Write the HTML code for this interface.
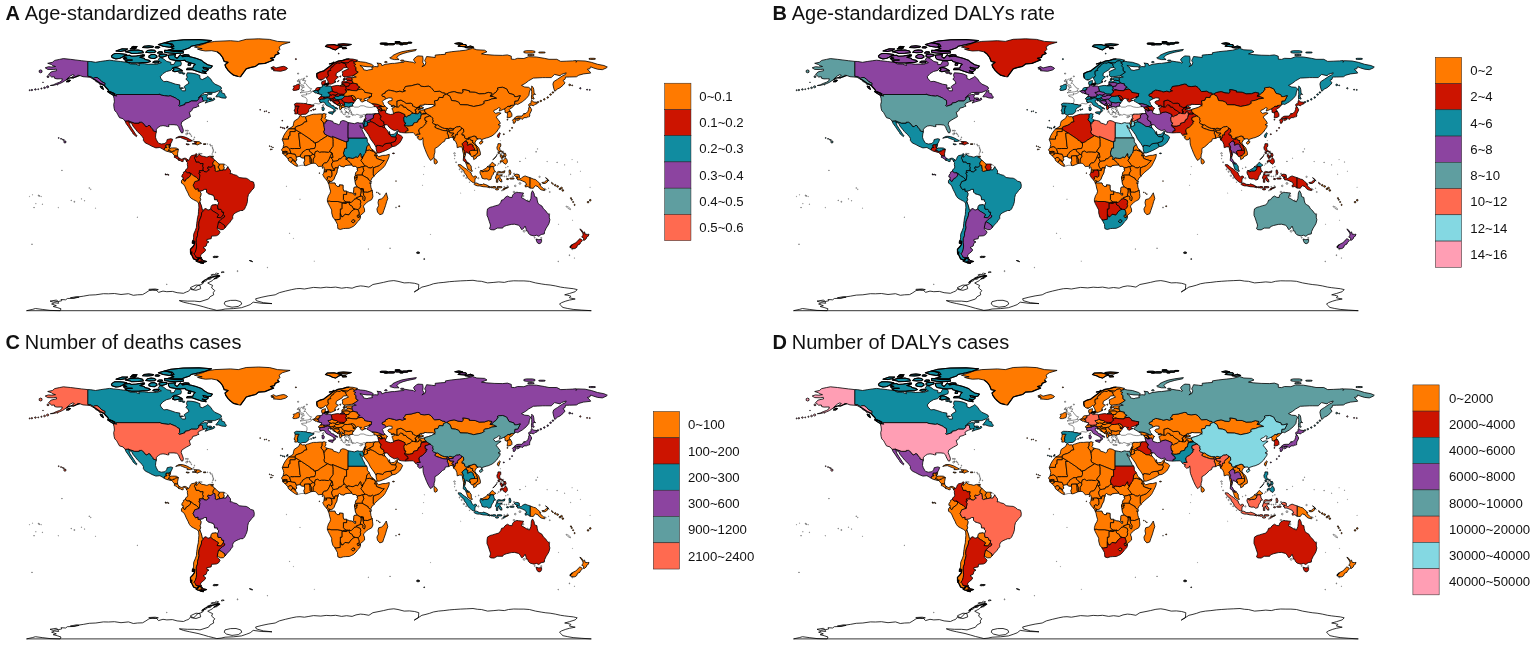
<!DOCTYPE html><html><head><meta charset="utf-8"><title>World maps</title><style>html,body{margin:0;padding:0;background:#fff}svg{display:block}text{font-family:"Liberation Sans",Arial,sans-serif;fill:#111}</style></head><body><svg width="1535" height="647" viewBox="0 0 1535 647"><rect width="1535" height="647" fill="#fff"/><defs><path id="c_Portugal" d="M282.2,120.3 282.6,120.5 282.6,121.0 282.2,121.1 281.9,121.0 281.9,120.5ZM269.3,112.4 269.3,112.8 268.9,112.9 268.6,112.8 268.6,112.4 268.9,112.2ZM265.0,111.2 265.0,111.7 264.7,111.8 264.3,111.7 264.3,111.2 264.7,111.1ZM266.2,110.8 266.6,110.9 266.6,111.3 266.2,111.5 265.9,111.3 265.9,110.9ZM295.1,106.0 296.2,106.0 298.7,106.0 299.2,106.5 298.1,107.4 297.9,109.5 297.3,109.8 297.9,111.9 297.3,113.6 296.4,113.9 294.8,113.9 295.1,111.6 294.0,111.0 295.0,108.7ZM260.5,109.6 260.5,110.1 260.1,110.2 259.8,110.1 259.8,109.6 260.1,109.5Z"/><path id="c_Spain" d="M284.9,128.1 284.9,128.7 284.4,128.9 284.0,128.7 284.0,128.1 284.4,127.9ZM283.3,127.6 283.3,128.2 282.9,128.4 282.4,128.2 282.4,127.6 282.9,127.4ZM287.4,127.4 287.4,128.0 287.0,128.2 286.5,128.0 286.5,127.4 287.0,127.2ZM281.3,127.0 281.3,127.5 280.8,127.7 280.4,127.5 280.4,127.0 280.8,126.8ZM288.1,126.5 288.1,127.1 287.6,127.2 287.1,127.1 287.1,126.5 287.6,126.3ZM311.5,110.5 311.5,111.0 311.1,111.1 310.7,111.0 310.7,110.5 311.1,110.3ZM313.1,109.2 314.0,109.2 314.4,109.4 314.4,110.0 314.0,110.2 313.1,110.2 312.7,110.0 312.7,109.4ZM307.8,104.4 310.0,104.5 311.6,105.0 313.9,105.2 313.9,106.0 312.4,106.8 310.2,107.8 308.9,109.4 308.4,110.0 309.2,111.0 307.8,112.7 305.8,114.2 302.0,114.4 300.4,115.3 299.0,114.5 297.3,113.6 297.9,111.9 297.3,109.8 297.9,109.5 298.1,107.4 299.2,106.5 298.7,106.0 296.2,106.0 295.1,106.0 294.3,104.2 296.4,103.1 300.3,103.2 303.4,103.4 306.1,103.6ZM315.7,109.4 315.4,109.5 315.0,109.4 315.0,108.9 315.4,108.7 315.7,108.9Z"/><path id="c_Luxembourg" d="M318.0,93.1 318.5,92.7 319.1,93.3 319.0,93.7 317.9,93.7Z"/><path id="c_Belgium" d="M314.3,90.7 315.7,90.7 316.8,90.5 318.0,91.0 317.9,91.6 318.3,91.7 318.8,92.4 318.5,92.7 318.0,93.1 317.9,93.7 316.5,92.9 315.5,92.9 313.9,91.8 312.8,91.2Z"/><path id="c_Netherlands" d="M317.9,91.6 318.0,91.0 316.8,90.5 315.7,90.7 314.3,90.7 315.5,89.7 316.3,88.1 317.5,87.5 319.9,87.5 320.1,87.8 319.9,88.9 319.6,89.9 318.3,90.0 318.3,91.7Z"/><path id="c_Switzerland" d="M318.9,98.9 318.5,99.1 318.5,98.7 319.9,97.1 320.8,96.8 322.4,96.5 324.0,97.0 323.8,97.6 325.2,97.9 325.4,98.4 324.8,99.1 323.5,98.7 323.0,99.7 322.1,98.7 321.3,99.5 319.9,99.5Z"/><path id="c_France" d="M323.7,104.2 323.8,105.8 323.4,106.8 322.4,106.0 322.4,105.0ZM306.6,95.0 306.3,93.4 307.4,93.9 309.2,93.7 311.3,92.6 311.4,91.5 312.8,91.2 313.9,91.8 315.5,92.9 316.5,92.9 317.9,93.7 317.9,93.7 318.0,93.7 319.0,93.7 319.4,94.2 321.8,94.5 320.8,96.8 319.9,97.1 318.5,98.7 318.5,99.1 318.9,98.9 319.9,99.5 319.6,100.8 319.9,102.1 321.0,102.4 320.7,102.9 319.1,104.0 316.8,103.6 315.2,103.4 313.6,104.2 313.9,105.2 311.6,105.0 310.0,104.5 307.8,104.4 306.1,103.6 307.0,101.6 307.0,99.4 305.5,97.4 301.9,96.3 301.5,95.3 304.2,94.9Z"/><path id="c_Denmark" d="M326.2,85.1 326.6,85.0 327.7,85.0 328.1,85.1 328.1,85.4 327.7,85.5 326.6,85.5 326.2,85.4ZM325.5,83.9 325.9,84.1 325.9,84.6 325.5,84.8 324.6,84.8 324.5,84.7 324.5,85.2 322.4,85.0 321.6,83.9 321.8,81.7 324.3,80.7 325.6,80.5 325.1,82.5 325.9,82.9 324.9,83.9ZM328.7,83.7 328.1,84.6 326.6,84.6 326.2,83.7 327.7,83.1ZM321.8,79.7 321.5,79.9 319.9,79.8 319.9,79.7Z"/><path id="c_Austria" d="M327.5,97.9 327.9,97.8 325.4,98.4 325.2,97.9 323.8,97.6 324.0,97.0 325.4,97.0 328.1,96.8 329.3,97.0 329.3,95.7 330.6,94.9 332.0,95.2 332.5,94.5 335.4,95.2 335.7,96.2 334.8,97.0 334.2,97.9 333.4,98.2 331.7,98.7 330.4,98.6 328.4,98.2 328.0,97.9Z"/><path id="c_Italy" d="M329.8,111.9 333.4,111.8 332.9,113.9 332.6,114.4 330.9,113.7 328.5,112.9 328.4,112.3ZM324.3,108.2 324.0,110.3 322.9,110.8 322.1,110.2 322.1,108.2 321.8,107.4 323.4,107.1ZM328.4,102.3 330.3,103.4 331.2,105.2 334.0,106.0 334.0,106.8 337.2,108.1 337.9,108.9 337.2,109.2 335.6,108.2 335.0,109.5 335.7,110.7 334.8,111.8 333.6,112.4 333.7,111.3 334.0,109.8 333.2,109.0 331.7,108.1 330.1,107.1 328.2,106.3 326.2,105.2 325.4,104.2 324.9,102.8 323.0,102.0 320.7,102.9 321.0,102.4 319.9,102.1 319.6,100.8 319.9,99.5 321.3,99.5 322.1,98.7 323.0,99.7 323.5,98.7 324.8,99.1 325.4,98.4 327.5,97.9 328.0,97.9 328.4,98.2 330.4,98.6 330.3,99.1 330.3,100.2 329.3,100.0 328.2,100.5Z"/><path id="c_Slovenia" d="M330.3,99.1 330.4,98.6 331.7,98.7 333.4,98.2 334.2,97.9 334.8,98.6 333.6,99.1 333.4,99.7 332.8,100.2 330.9,100.2 330.3,100.2Z"/><path id="c_CzechRepublic" d="M335.4,95.2 332.5,94.5 332.0,95.2 330.6,94.9 329.3,94.2 328.5,93.3 327.9,92.4 329.3,92.3 331.4,91.3 332.5,91.3 334.5,92.0 335.4,92.3 336.7,92.4 338.4,93.7 337.2,94.5 335.9,94.7 335.5,95.4Z"/><path id="c_Germany" d="M319.9,88.9 320.1,87.8 319.9,87.5 322.3,87.0 322.4,85.0 324.5,85.2 326.0,86.5 328.2,86.0 330.4,86.0 331.2,86.6 331.5,87.8 331.8,88.9 332.0,90.0 332.5,91.3 331.4,91.3 329.3,92.3 327.9,92.4 328.5,93.3 329.3,94.2 330.6,94.9 329.3,95.7 329.3,97.0 328.1,96.8 325.4,97.0 324.0,97.0 322.4,96.5 320.8,96.8 321.8,94.5 319.4,94.2 319.0,93.7 319.1,93.3 318.5,92.7 318.8,92.4 318.3,91.7 318.3,90.0 319.6,89.9Z"/><path id="c_Slovakia" d="M338.7,96.0 338.4,96.5 335.7,96.2 335.5,95.4 335.9,94.7 337.2,94.5 338.4,93.7 340.0,94.2 341.7,94.1 344.2,94.4 343.6,95.5 341.1,95.3 338.9,95.9Z"/><path id="c_Hungary" d="M334.2,97.9 334.8,97.0 335.7,96.2 338.4,96.5 338.7,96.0 338.9,95.9 341.1,95.3 343.6,95.5 344.9,96.2 342.2,98.9 340.8,99.2 338.6,99.5 336.7,99.5 334.8,98.6Z"/><path id="c_Croatia" d="M333.2,102.6 331.7,100.7 330.4,101.1 330.3,100.2 330.9,100.2 332.8,100.2 333.4,99.7 333.6,99.1 334.8,98.6 336.7,99.5 338.6,99.5 338.9,101.0 338.7,101.1 335.6,100.7 336.0,100.7 335.3,100.7 333.7,100.7 333.7,101.5 334.3,102.3 336.1,103.7 336.5,104.2 337.9,105.0 337.9,105.2 335.6,103.9Z"/><path id="c_BosniaandHerzegovina" d="M339.2,103.4 339.2,103.7 338.6,103.6ZM336.1,103.7 334.3,102.3 333.7,101.5 333.7,100.7 335.3,100.7 336.0,100.7 338.7,101.1 338.9,101.0 339.4,102.1 339.7,103.2 338.6,103.6 337.9,105.0 336.5,104.2Z"/><path id="c_Montenegro" d="M337.9,105.2 337.9,105.0 338.6,103.6 339.7,103.7 340.8,104.4 340.5,104.9 339.8,104.9 339.4,106.0 339.4,106.0Z"/><path id="c_Albania" d="M339.4,108.2 339.5,106.1 339.4,106.0 339.4,106.0 339.8,104.9 340.5,104.9 341.2,105.8 341.1,106.9 341.9,107.6 341.4,108.9 340.3,109.5Z"/><path id="c_Kosovo" d="M340.5,104.9 340.8,104.4 341.6,103.7 342.8,104.5 342.8,105.3 341.2,105.8Z"/><path id="c_Macedonia" d="M341.1,106.9 341.2,105.8 342.8,105.3 344.1,105.3 345.0,106.9 343.4,107.3 341.9,107.6Z"/><path id="c_Greece" d="M350.0,117.1 347.7,117.3 345.8,116.8 345.8,116.3 347.4,116.1 350.2,116.6ZM348.4,112.8 348.0,113.0 347.6,112.8 347.6,112.3 348.0,112.2 348.4,112.3ZM341.6,112.2 341.2,112.3 340.8,112.2 340.8,111.7 341.2,111.5 341.6,111.7ZM346.9,111.9 345.9,111.3 346.6,112.6 345.0,112.4 345.3,114.7 344.1,114.7 343.0,114.2 342.3,112.6 341.9,111.5 341.4,110.7 340.4,109.6 340.4,109.9 340.0,110.1 339.6,109.9 339.6,109.4 340.0,109.3 340.4,109.4 340.4,109.5 341.4,108.9 341.9,107.6 343.4,107.3 345.0,106.9 347.4,106.6 348.6,107.1 350.2,106.3 349.7,107.8 347.4,107.6 346.6,109.0 344.9,108.2 344.5,109.8 345.5,110.7 345.7,111.1 345.8,111.1 347.4,112.3ZM348.9,109.0 348.9,109.4 348.5,109.6 348.1,109.4 348.1,109.0 348.5,108.8ZM353.2,115.4 352.9,115.6 352.5,115.4 352.5,114.9 352.9,114.8 353.2,114.9ZM351.7,114.4 351.3,114.6 350.9,114.4 350.9,114.0 351.3,113.8 351.7,114.0ZM349.2,114.1 348.8,114.3 348.4,114.1 348.4,113.6 348.8,113.5 349.2,113.6ZM351.5,113.0 351.1,113.1 350.7,113.0 350.7,112.5 351.1,112.3 351.5,112.5ZM350.1,111.9 349.7,112.0 349.3,111.9 349.3,111.4 349.7,111.2 350.1,111.4ZM350.4,110.6 350.0,110.7 349.6,110.6 349.6,110.1 350.0,109.9 350.4,110.1Z"/><path id="c_Serbia" d="M342.8,105.3 342.8,104.5 341.6,103.7 340.8,104.4 339.7,103.7 339.2,103.7 339.2,103.4 339.7,103.2 339.4,102.1 338.9,101.0 338.6,99.5 340.8,99.2 342.7,100.7 342.5,101.1 343.6,101.8 344.5,102.3 344.1,103.1 345.0,103.9 344.1,105.3Z"/><path id="c_Bulgaria" d="M348.6,107.1 347.4,106.6 345.0,106.9 344.1,105.3 345.0,103.9 344.1,103.1 344.5,102.3 348.9,103.1 351.3,102.4 353.8,103.1 353.8,103.1 353.8,103.2 352.7,103.9 352.4,105.0 352.9,106.0 350.3,106.3 350.2,106.3Z"/><path id="c_Moldova" d="M352.1,95.3 354.4,96.3 356.0,98.7 354.3,99.7 353.2,100.2 353.0,98.1 350.7,95.7Z"/><path id="c_Romania" d="M354.0,102.6 353.8,103.1 353.8,103.1 351.3,102.4 348.9,103.1 344.5,102.3 343.6,101.8 342.5,101.1 342.7,100.7 340.8,99.2 342.2,98.9 344.9,96.2 347.4,96.3 350.0,95.8 350.7,95.7 353.0,98.1 353.2,100.2 355.5,100.5Z"/><path id="c_Russia" d="M341.9,84.4 344.4,84.9 344.7,85.8 340.0,85.8ZM387.1,61.8 387.1,62.4 386.5,62.6 385.2,62.6 384.7,62.4 384.7,61.8 385.2,61.5 386.5,61.5ZM403.8,60.3 403.8,61.0 403.2,61.2 401.4,61.2 400.7,61.0 400.7,60.3 401.4,60.1 403.2,60.1ZM407.8,50.6 416.4,49.4 415.6,50.6 407.8,52.2 403.1,53.5 399.1,55.1 396.8,57.5 399.1,59.6 394.4,59.6 390.5,58.6 389.7,57.8 392.1,56.7 392.9,55.4 396.8,53.5 401.5,51.8ZM470.5,46.0 473.7,47.2 469.0,48.1 465.0,47.5ZM458.0,46.2 461.1,44.3 465.8,44.6 466.6,45.7 464.3,46.7ZM388.2,44.4 388.2,43.8 389.5,43.5 393.0,43.5 394.4,43.8 394.4,44.5 393.0,44.8 389.5,44.8 388.2,44.5 388.2,44.8 387.3,44.9 385.1,44.9 384.2,44.8 384.2,44.4 385.1,44.3 387.3,44.3ZM402.4,44.1 403.1,44.3 403.1,44.6 402.4,44.8 400.6,44.8 399.9,44.6 399.9,44.3 400.6,44.1ZM387.4,43.3 387.4,44.0 385.8,44.2 381.9,44.2 380.3,44.0 380.3,43.3 381.9,43.1 385.8,43.1ZM407.8,43.1 407.8,43.8 406.6,44.1 403.5,44.1 402.3,43.8 402.3,43.1 403.5,42.8 406.6,42.8ZM458.8,42.7 462.7,43.5 458.0,44.3 454.8,43.5ZM401.5,42.8 401.5,43.5 400.1,43.8 396.6,43.8 395.2,43.5 395.2,42.8 396.6,42.5 400.1,42.5ZM411.7,42.4 411.7,42.9 410.8,43.1 408.6,43.1 407.8,42.9 407.8,42.4 408.6,42.2 410.8,42.2ZM398.9,41.5 399.9,41.7 399.9,42.0 398.9,42.2 396.3,42.2 395.2,42.0 395.2,41.7 396.3,41.5ZM538.0,102.8 537.3,102.5 537.3,101.7 538.0,101.4 538.7,101.7 538.7,102.5ZM540.8,101.7 540.1,101.4 540.1,100.5 540.8,100.3 541.5,100.5 541.5,101.4ZM544.3,100.1 543.6,99.8 543.6,98.9 544.3,98.6 545.0,98.9 545.0,99.8ZM547.7,98.2 547.0,97.9 547.0,97.0 547.7,96.7 548.4,97.0 548.4,97.9ZM550.5,95.3 549.8,95.0 549.8,94.1 550.5,93.8 551.3,94.1 551.3,95.0ZM533.3,94.1 533.0,97.0 534.1,98.2 533.9,99.2 532.5,98.4 531.7,99.4 531.4,97.0 531.7,94.5 531.7,91.3 531.2,88.9 531.7,87.3 531.7,86.0 533.3,87.6 533.8,89.7 534.1,92.9 535.6,94.5ZM552.9,93.2 552.2,92.9 552.2,92.0 552.9,91.7 553.6,92.0 553.6,92.9ZM572.2,85.8 571.7,85.6 571.7,85.1 572.2,84.9 572.7,85.1 572.7,85.6ZM569.7,85.7 568.9,85.4 568.9,84.4 569.7,84.1 570.5,84.4 570.5,85.4ZM425.8,58.3 426.6,56.5 431.3,57.0 435.2,57.5 435.2,55.1 440.7,54.6 445.4,54.3 445.4,52.7 451.7,51.7 459.5,50.9 465.8,50.2 472.6,48.3 476.8,49.8 484.6,50.2 487.0,51.8 481.5,53.9 486.2,54.6 494.1,55.2 502.7,55.4 507.4,54.9 511.3,56.2 511.3,59.1 514.5,59.4 517.6,58.3 523.9,58.5 528.6,56.7 536.4,57.0 544.3,58.3 549.0,59.3 556.8,59.3 560.7,61.4 566.2,61.2 572.5,60.9 576.4,60.5 576.1,62.3 577.2,60.7 585.1,61.0 591.3,62.3 597.6,64.3 603.9,65.5 607.3,67.0 606.2,68.0 602.3,69.7 597.6,69.2 593.7,68.0 590.6,66.8 589.8,68.8 587.4,69.2 590.2,72.1 590.6,73.1 583.5,73.9 578.8,75.2 576.4,76.8 569.4,77.0 565.5,77.1 565.1,79.2 563.1,80.4 565.0,82.9 563.1,85.2 560.0,87.8 557.6,88.9 554.8,91.3 553.7,88.1 552.9,84.1 553.7,81.7 557.6,79.2 562.3,76.0 565.5,74.4 566.2,72.8 561.5,74.4 560.0,75.7 554.5,74.4 551.3,77.6 545.8,77.6 542.7,77.6 537.2,77.9 533.3,78.1 528.6,80.8 525.4,83.3 521.5,85.4 524.7,87.0 528.6,87.3 530.6,88.9 529.4,92.1 528.9,95.3 526.2,98.6 522.3,101.8 517.6,104.5 516.0,103.9 514.0,105.3 513.8,105.2 514.5,104.2 514.8,101.1 517.8,100.8 520.3,95.7 516.8,96.6 514.5,96.6 513.8,94.7 509.0,93.3 506.6,88.9 502.7,87.3 498.6,87.6 497.2,88.4 498.3,88.9 495.9,92.3 493.7,93.7 492.5,95.3 490.7,96.2 490.1,96.2 492.0,93.3 488.3,92.4 484.6,93.7 479.2,93.9 475.2,92.3 469.3,92.1 469.4,90.8 465.0,89.9 462.7,89.7 463.2,92.1 461.9,93.3 458.0,92.9 454.1,91.6 449.3,92.6 446.7,94.2 445.9,94.4 445.1,93.3 442.3,92.8 439.8,91.3 434.4,91.6 431.1,87.6 428.9,86.2 424.2,86.6 420.6,86.2 419.5,84.4 417.2,84.2 411.2,85.8 405.4,86.5 404.6,88.3 403.1,89.9 405.6,90.8 402.3,92.0 399.9,91.2 396.3,92.0 394.4,91.3 390.5,90.4 388.6,90.2 385.2,92.0 385.3,93.1 382.5,94.1 381.9,95.5 383.0,96.5 384.4,96.5 385.6,98.2 386.1,98.8 383.4,100.2 382.3,101.5 383.1,102.6 383.4,104.2 385.0,106.0 383.1,106.9 381.7,106.0 378.7,104.7 375.6,103.9 371.7,103.6 368.5,101.8 367.0,101.0 366.7,100.3 368.5,98.9 370.4,97.4 368.9,97.6 368.9,97.6 369.0,96.8 371.5,96.3 371.4,94.9 371.8,93.6 368.5,93.1 364.6,92.3 364.6,91.3 362.0,89.1 358.8,89.5 358.0,88.1 360.2,87.3 357.2,85.2 357.4,83.9 353.2,83.1 352.5,81.3 351.9,80.8 352.4,80.0 351.9,78.8 352.9,77.6 356.3,77.0 353.6,76.0 352.5,76.0 355.2,74.4 358.3,72.1 356.0,70.7 356.0,67.6 354.4,65.7 355.8,64.4 353.6,63.1 354.3,62.2 357.4,61.2 360.7,61.8 365.4,62.3 371.7,64.3 373.6,65.9 371.7,66.8 367.0,66.7 363.1,66.2 359.9,65.4 363.1,68.0 363.5,69.7 367.0,70.5 368.5,69.9 372.5,69.4 371.7,67.5 374.8,66.5 378.0,66.8 378.0,63.9 376.9,63.0 381.1,63.6 381.9,65.7 385.0,64.4 392.1,63.4 394.4,63.4 399.9,62.6 403.8,62.3 404.3,61.0 409.3,61.8 413.3,62.3 414.0,63.1 415.6,62.6 414.0,60.7 413.7,59.1 416.4,56.7 418.0,55.9 422.7,56.2 423.1,59.1 422.7,62.3 424.2,64.7 421.9,66.7 425.0,65.2 425.8,62.6 424.7,60.7ZM595.3,58.5 595.3,59.2 593.9,59.4 590.4,59.4 589.0,59.2 589.0,58.5 590.4,58.3 593.9,58.3ZM534.1,54.7 534.1,55.3 532.7,55.6 529.2,55.6 527.8,55.3 527.8,54.7 529.2,54.4 532.7,54.4ZM545.1,52.2 545.1,52.8 543.7,53.0 540.2,53.0 538.8,52.8 538.8,52.2 540.2,52.0 543.7,52.0ZM534.9,51.3 534.9,52.6 532.4,53.1 526.3,53.1 523.9,52.6 523.9,51.3 526.3,50.7 532.4,50.7Z"/><path id="c_Lithuania" d="M344.4,84.9 341.9,84.4 341.9,83.1 344.9,82.6 348.0,82.6 350.7,83.7 349.4,85.0 348.9,86.2 345.8,86.5 344.7,85.8Z"/><path id="c_Latvia" d="M344.9,82.6 341.9,83.1 341.9,81.7 344.2,80.5 345.3,81.7 345.6,81.6 346.7,81.5 347.1,80.4 347.2,80.4 347.2,80.2 348.6,80.0 351.9,80.8 352.5,81.3 353.2,83.1 350.7,83.7 348.0,82.6Z"/><path id="c_Estonia" d="M347.1,80.4 347.2,80.2 347.2,80.4ZM343.1,79.3 343.6,79.1 345.0,79.1 345.5,79.3 345.5,79.8 345.0,80.0 343.6,80.0 343.1,79.8ZM345.8,78.8 345.8,78.1 348.1,77.6 352.9,77.6 351.9,78.8 352.4,80.0 351.9,80.8 348.6,80.0 347.2,80.2ZM343.9,78.4 344.7,78.4 345.0,78.5 345.0,78.7 344.7,78.8 343.9,78.8 343.6,78.7 343.6,78.5ZM344.2,77.0 344.2,76.8 345.5,76.8Z"/><path id="c_Poland" d="M341.7,94.1 340.0,94.2 338.4,93.7 336.7,92.4 335.4,92.3 334.5,92.0 332.5,91.3 332.0,90.0 331.8,88.9 331.5,87.8 331.2,86.6 334.5,85.8 337.9,85.4 340.0,85.8 344.7,85.8 345.8,86.5 346.4,88.6 345.3,89.4 345.9,90.5 346.7,92.1 344.5,93.7 344.2,94.4Z"/><path id="c_Belarus" d="M348.1,89.9 349.7,90.1 347.5,90.1ZM356.8,90.8 352.1,90.5 348.1,89.9 345.9,90.5 345.3,89.4 346.4,88.6 345.8,86.5 348.9,86.2 349.4,85.0 350.7,83.7 353.2,83.1 357.4,83.9 357.2,85.2 360.2,87.3 358.0,88.1 358.8,89.5 357.1,90.2 357.4,89.5Z"/><path id="c_Ukraine" d="M364.1,98.9 364.3,100.3 366.2,100.3 364.3,101.0 362.3,102.0 361.3,101.6 359.9,100.3 361.6,99.2 359.1,99.1 358.3,98.2 357.1,98.6 355.5,100.5 353.2,100.2 354.3,99.7 356.0,98.7 354.4,96.3 352.1,95.3 350.7,95.7 350.0,95.8 347.4,96.3 344.9,96.2 343.6,95.5 344.2,94.4 344.5,93.7 346.7,92.1 346.1,90.7 345.9,90.5 346.3,90.4 347.5,90.1 349.7,90.1 352.1,90.5 356.8,90.8 357.1,90.2 358.8,89.5 362.0,89.1 364.6,91.3 364.6,92.3 368.5,93.1 371.8,93.6 371.4,94.9 371.5,96.3 369.0,96.8 368.9,97.6 368.9,97.6 367.8,97.8Z"/><path id="c_Norway" d="M319.9,79.7 319.9,79.8 319.1,79.7 317.5,78.4 316.8,76.2 316.8,73.6 319.9,72.0 323.8,70.9 325.4,69.6 328.5,67.2 331.7,64.7 334.0,63.0 337.9,61.2 342.7,60.4 346.6,59.1 349.4,58.9 352.9,59.1 357.6,60.2 356.0,61.0 357.4,61.2 354.3,62.2 353.6,61.1 352.9,60.7 349.7,61.2 348.1,63.0 345.0,62.8 341.9,62.3 341.2,62.2 340.3,63.3 337.2,63.1 334.3,64.7 333.1,66.7 331.7,67.0 330.3,69.4 330.9,70.4 328.1,71.2 328.1,73.1 328.2,74.9 328.8,75.2 327.4,77.1 326.5,78.3 325.6,77.1 323.8,78.8 321.8,79.7ZM332.5,63.6 329.3,63.9 332.5,63.0 334.0,62.0ZM296.4,58.8 296.4,59.4 295.9,59.6 295.4,59.4 295.4,58.8 295.9,58.6ZM339.1,53.4 339.1,53.9 338.7,54.0 338.3,53.9 338.3,53.4 338.7,53.2ZM342.7,48.8 341.9,47.3 345.8,47.5 346.6,48.6ZM337.2,45.4 341.9,46.7 338.7,47.8 335.6,49.9 332.5,49.1 330.1,47.8 325.4,46.4 327.0,44.9 334.0,44.6ZM346.6,45.7 340.3,45.4 337.9,44.3 343.4,43.8 351.3,44.4Z"/><path id="c_Sweden" d="M335.7,81.2 335.4,82.3 334.7,82.9ZM338.9,80.5 338.1,81.7 337.5,81.7 338.6,80.2ZM338.7,71.7 336.4,73.1 335.9,75.7 338.4,77.0 337.3,77.9 335.1,80.0 334.7,82.3 333.7,83.1 331.4,84.1 329.3,84.2 328.7,82.9 327.6,80.5 326.5,78.3 327.4,77.1 328.8,75.2 328.2,74.9 328.1,73.1 328.1,71.2 330.9,70.4 330.3,69.4 331.7,67.0 333.1,66.7 334.3,64.7 337.2,63.1 340.3,63.3 341.2,62.2 346.1,64.1 345.9,65.1 346.9,67.5 343.4,67.8 342.2,69.6Z"/><path id="c_Finland" d="M339.8,76.2 340.3,75.9 340.8,76.2 340.8,76.8 340.3,77.1 339.8,76.8ZM345.0,70.4 345.1,70.3 348.6,68.8 346.9,67.5 345.9,65.1 346.1,64.1 341.2,62.2 341.9,62.3 345.0,62.8 348.1,63.0 349.7,61.2 352.9,60.7 353.6,61.1 354.3,62.2 353.6,63.1 355.8,64.4 354.4,65.7 356.0,67.6 356.0,70.7 358.3,72.1 355.2,74.4 352.5,76.0 348.1,76.5 345.5,76.8 344.2,76.8 344.2,77.0 342.3,75.5 342.7,73.6 342.4,72.7 342.2,71.7Z"/><path id="c_Lebanon" d="M364.8,118.7 365.4,117.7 366.3,118.4 365.1,119.7 364.0,120.2Z"/><path id="c_Israel" d="M362.6,123.1 363.4,121.9 364.0,120.2 365.1,119.7 365.1,120.8 364.8,120.8 364.6,122.7 363.8,126.0 363.7,126.0Z"/><path id="c_Jordan" d="M363.8,126.1 363.7,126.0 363.8,126.0 364.6,122.7 364.8,120.8 365.1,120.8 366.7,121.4 369.8,119.7 370.4,121.6 370.1,121.9 367.0,122.7 367.8,125.1 365.4,126.4 363.8,126.1 363.8,126.1Z"/><path id="c_Kuwait" d="M384.7,127.4 384.8,127.6 383.4,127.6 381.9,126.6 383.3,125.1 384.2,125.1Z"/><path id="c_Qatar" d="M389.3,131.4 389.9,133.2 389.6,134.0 389.4,134.0 388.6,133.5Z"/><path id="c_UnitedArabEmirates" d="M389.4,134.0 389.6,134.0 389.4,134.3 391.3,134.5 394.3,134.2 395.7,132.7 396.9,131.3 397.4,131.1 397.4,133.2 397.5,133.4 396.8,133.4 396.5,134.5 395.5,136.9 391.4,136.6 389.9,134.7 389.3,134.3 389.3,133.9Z"/><path id="c_Oman" d="M396.5,134.5 396.8,133.4 397.5,133.4 397.7,134.2 400.9,135.5 402.7,137.2 401.2,140.5 399.6,142.9 397.6,144.5 395.2,146.1 392.2,146.7 390.5,142.9 395.2,141.3 396.3,138.0 395.5,136.9Z"/><path id="c_Yemen" d="M392.5,153.5 392.5,153.2 393.0,153.0 394.0,153.0 394.4,153.2 394.4,153.5 394.0,153.7 393.0,153.7ZM388.9,148.8 385.8,150.4 382.7,151.7 379.5,152.9 377.2,153.0 376.7,151.2 376.1,148.8 376.1,147.1 376.7,145.4 378.3,145.4 381.6,145.8 382.7,146.3 384.2,144.2 386.0,143.5 390.5,142.9 392.2,146.7Z"/><path id="c_Syria" d="M366.3,118.4 365.4,117.7 365.4,117.5 365.1,115.6 366.3,115.0 366.3,114.2 368.5,114.2 371.7,114.2 375.4,113.7 373.6,115.0 373.2,118.1 369.8,119.7 366.7,121.4 365.1,120.8 365.1,119.7 366.0,118.8ZM373.8,114.9 373.5,115.3 373.6,115.0Z"/><path id="c_Georgia" d="M374.2,105.3 371.7,103.6 375.6,103.9 378.7,104.7 381.7,106.0 382.0,106.9 379.5,106.9 377.2,107.3 375.6,106.6 374.0,106.6Z"/><path id="c_Armenia" d="M379.5,106.9 381.1,108.7 381.9,109.8 381.9,110.8 381.1,110.8 380.3,109.8 379.2,109.5 377.5,108.9 377.2,107.3Z"/><path id="c_Azerbaijan" d="M381.1,110.8 380.2,110.7 379.4,110.0 379.2,109.5 380.3,109.8ZM383.1,106.9 385.0,106.0 386.1,107.4 387.8,108.4 386.6,108.6 386.3,110.2 385.6,111.6 384.7,110.0 384.2,109.7 381.9,110.8 382.2,109.0 380.7,107.9 380.4,107.9 379.5,106.9 381.8,106.9 382.0,106.9 381.7,106.0Z"/><path id="c_Turkey" d="M374.8,114.4 374.5,114.4 375.4,113.7ZM368.5,114.2 366.3,114.2 366.3,115.0 365.1,115.6 365.7,114.5 363.8,114.4 362.3,115.2 359.9,115.3 356.9,114.2 355.2,115.2 352.9,114.4 351.8,113.9 351.3,111.6 350.2,110.2 350.0,109.0 349.7,108.1 349.7,107.8 350.2,106.3 350.3,106.3 352.9,106.0 354.6,107.1 358.3,107.1 360.7,105.8 363.8,105.8 366.2,106.9 369.3,107.4 371.7,107.4 374.0,106.6 375.6,106.6 377.2,107.3 377.5,108.9 379.2,109.5 378.0,110.0 379.2,113.6 375.4,113.7 371.7,114.2Z"/><path id="c_Iraq" d="M384.2,125.1 383.3,125.1 381.9,126.6 379.1,126.4 374.8,123.4 372.3,122.1 370.4,121.6 369.8,119.7 373.2,118.1 373.5,115.3 373.8,114.9 374.5,114.4 374.8,114.4 375.4,113.7 379.2,113.6 380.2,115.5 381.1,115.8 381.1,116.9 380.3,118.7 381.1,120.3 383.9,121.9 383.8,123.5 384.2,124.3 385.6,124.7Z"/><path id="c_SaudiArabia" d="M395.5,136.9 395.9,137.5 396.3,138.0 395.2,141.3 390.5,142.9 386.0,143.5 384.2,144.2 382.7,146.3 381.6,145.8 378.3,145.4 376.7,145.4 376.1,147.1 374.0,143.7 370.4,138.8 368.5,134.8 366.2,131.6 363.8,128.4 363.8,126.1 363.8,126.1 365.4,126.4 367.8,125.1 367.0,122.7 370.1,121.9 370.4,121.6 372.3,122.1 374.8,123.4 379.1,126.4 381.9,126.6 383.4,127.6 384.6,127.6 385.3,128.1 386.6,129.7 387.7,130.9 388.6,133.5 389.3,133.9 389.3,134.3 389.9,134.7 391.4,136.6 393.2,136.7Z"/><path id="c_Turkmenistan" d="M392.1,109.0 392.1,108.1 394.4,107.4 394.4,106.0 391.3,106.6 391.3,106.1 393.6,105.3 396.0,106.9 396.8,106.9 398.4,106.9 400.7,104.7 403.1,105.5 403.2,106.8 406.0,107.3 407.0,109.0 410.1,110.8 413.3,113.2 411.8,113.4 410.1,115.0 407.8,115.8 406.7,116.8 404.9,116.1 404.9,114.5 402.0,113.1 398.8,111.9 396.0,112.3 393.5,113.4 392.9,110.7ZM406.8,108.7 407.8,109.5 407.0,109.0Z"/><path id="c_Tajikistan" d="M415.4,111.0 414.8,109.8 416.1,109.5 417.1,107.7 418.6,107.8 418.9,107.7 419.5,107.4 419.8,108.7 419.7,108.7 417.8,109.8 419.5,109.7 421.6,110.2 424.7,109.8 424.6,111.5 426.6,113.1 426.4,113.6 423.9,113.1 421.3,114.4 420.8,111.8 419.2,111.6 419.1,112.9 417.7,113.7 415.3,113.6 416.2,111.9 415.8,110.9Z"/><path id="c_Kyrgyzstan" d="M424.7,110.0 424.7,110.0 424.7,109.8ZM423.0,108.1 421.9,108.6 421.2,108.6ZM417.8,109.8 419.7,108.7 421.9,108.6 423.6,107.8 421.4,106.6 419.1,107.1 420.3,105.3 424.2,105.0 424.2,104.2 427.7,104.5 432.9,104.5 434.8,105.5 431.3,107.4 428.2,108.4 424.7,109.4 424.7,109.8 421.6,110.2 419.5,109.7Z"/><path id="c_Uzbekistan" d="M416.1,107.6 417.0,107.7 418.8,106.6 420.3,105.3 419.1,107.1 421.2,106.7 421.3,106.7 421.4,106.6 422.5,107.2 423.6,107.8 423.0,108.1 421.2,108.6 419.8,108.7 419.5,107.4 417.2,107.6 416.1,109.5 414.8,109.8 415.9,111.9 415.3,113.6 413.3,113.2 410.1,110.8 407.8,109.5 406.8,108.7 406.0,107.3 403.2,106.8 403.1,105.5 402.3,105.2 402.1,105.2 400.7,104.7 398.4,106.9 396.8,106.9 396.8,101.0 400.9,100.0 404.6,102.1 406.2,103.4 410.7,103.1 412.6,104.2 412.5,105.8 413.3,106.0 415.6,107.3 416.6,107.9Z"/><path id="c_Afghanistan" d="M407.8,115.8 410.1,115.0 411.8,113.4 413.3,113.2 415.3,113.6 417.7,113.7 419.1,112.9 419.2,111.6 420.8,111.8 421.3,114.4 423.9,113.1 426.4,113.6 425.8,113.9 422.7,114.2 421.3,114.8 420.6,117.4 420.5,118.7 418.8,119.2 419.2,119.8 418.0,120.3 417.7,122.1 415.6,122.6 413.6,123.2 412.9,125.3 409.3,126.1 407.0,126.1 404.5,125.3 405.9,122.9 404.5,122.7 403.8,119.3 403.8,117.9 404.9,116.1 406.7,116.8ZM426.4,113.6 426.6,113.1 426.6,113.1ZM415.9,111.9 415.4,111.0 415.8,110.9 416.2,111.9 415.3,113.6Z"/><path id="c_Iran" d="M385.3,128.1 384.6,127.6 384.8,127.6ZM398.0,129.8 394.4,130.6 391.3,129.0 388.9,127.1 387.4,124.8 385.6,124.7 384.2,124.3 383.8,123.5 383.9,121.9 381.1,120.3 380.3,118.7 381.1,116.9 381.1,115.8 380.2,115.5 379.2,113.6 378.0,110.0 379.2,109.5 379.4,110.0 380.2,110.7 381.1,110.8 381.9,110.8 384.2,109.7 384.7,110.0 385.6,111.6 385.8,113.1 388.2,113.9 390.5,114.5 393.6,114.0 393.5,113.4 396.0,112.3 398.8,111.9 402.0,113.1 404.9,114.5 404.9,116.1 403.8,117.9 403.8,119.3 404.5,122.7 405.9,122.9 404.5,125.3 405.9,127.4 407.5,128.0 408.1,129.7 408.2,130.6 406.2,131.1 405.6,132.9 401.5,132.6 398.8,131.9ZM382.2,109.0 381.9,110.8 381.9,109.8 381.1,108.7 380.4,107.9 380.7,107.9Z"/><path id="c_Nepal" d="M437.6,124.7 439.9,126.4 442.3,127.6 444.6,128.4 447.1,128.5 447.1,130.9 443.9,130.6 442.3,130.3 439.6,129.3 436.8,128.4 434.6,127.1 436.2,124.8Z"/><path id="c_Bhutan" d="M449.7,128.0 452.6,128.7 453.4,129.2 453.3,130.2 450.9,130.3 448.6,130.3 448.4,129.5Z"/><path id="c_Bangladesh" d="M453.0,137.6 450.9,137.2 448.7,138.4 448.4,136.1 447.9,134.3 447.1,133.7 447.5,131.9 447.8,130.8 449.8,131.6 449.8,132.7 453.9,133.0 453.4,134.2 452.2,134.7 452.0,135.6 452.6,136.4 453.7,136.1 454.2,138.8 453.7,140.1Z"/><path id="c_Pakistan" d="M418.8,129.7 419.1,132.1 420.2,134.2 416.9,134.3 415.9,135.3 414.0,133.5 413.3,132.6 409.3,132.7 405.6,132.9 406.2,131.1 408.2,130.6 408.1,129.7 407.5,128.0 405.9,127.4 404.5,125.3 407.0,126.1 409.3,126.1 412.9,125.3 413.6,123.2 415.6,122.6 417.7,122.1 418.0,120.3 419.2,119.8 418.8,119.2 420.5,118.7 420.6,117.4 421.3,114.8 422.7,114.2 425.8,113.9 426.4,113.6 427.9,114.4 431.0,116.3 429.4,116.1 425.0,117.6 425.0,120.3 427.2,121.4 425.8,121.9 426.0,123.5 424.9,124.8 422.5,127.1 420.3,128.3 418.8,129.7Z"/><path id="c_India" d="M453.7,136.1 452.6,136.4 452.0,135.6 452.2,134.7 453.4,134.2 453.9,133.0 449.8,132.7 449.8,131.6 447.8,130.8 447.5,131.9 447.1,133.7 447.9,134.3 448.4,136.1 448.7,138.4 445.4,138.8 444.6,141.3 442.3,142.4 439.9,145.0 437.6,146.9 434.9,148.5 434.9,152.4 434.1,155.0 434.1,156.9 432.9,158.7 431.3,159.9 430.5,160.4 428.6,157.5 426.6,153.3 425.0,149.3 423.5,145.3 423.1,142.9 423.0,139.6 422.7,137.7 421.9,139.5 419.5,140.0 417.2,137.7 418.8,136.7 416.4,135.9 415.9,135.3 416.9,134.3 420.2,134.2 419.1,132.1 418.8,129.7 420.3,128.3 422.5,127.1 424.9,124.8 426.0,123.5 425.8,121.9 427.2,121.4 425.0,120.3 425.0,117.6 429.4,116.1 431.0,116.3 432.9,118.2 432.7,119.8 433.5,121.0 432.4,122.7 433.3,123.5 436.2,124.8 434.6,127.1 436.8,128.4 439.6,129.3 442.3,130.3 443.9,130.6 447.1,130.9 447.1,128.5 448.2,128.4 448.4,129.5 448.6,130.3 450.9,130.3 453.3,130.2 453.4,129.2 452.6,128.7 454.1,128.5 456.4,126.8 458.8,126.6 460.0,126.3 461.6,127.9 461.1,129.8 458.3,131.6 457.3,133.2 457.5,134.8 455.5,134.8 455.3,136.4 454.8,138.0 454.2,138.8Z"/><path id="c_Cambodia" d="M473.2,156.3 472.7,156.7 471.3,156.4 470.4,154.8 469.4,151.7 469.7,151.6 470.4,150.6 472.1,150.4 474.4,150.3 475.2,150.3 477.7,149.8 477.6,153.3 475.9,154.5 475.8,154.5 475.2,155.3 475.2,155.3 475.4,155.8 474.0,155.9ZM470.0,153.6 470.4,154.8 469.9,154.3ZM474.4,150.3 473.9,150.3 474.4,150.2Z"/><path id="c_Laos" d="M469.0,144.3 467.7,145.3 467.4,144.5 467.9,142.1 466.8,142.1 466.0,140.7 467.6,138.8 468.5,139.3 468.6,137.4 469.3,137.4 470.5,140.0 472.9,140.6 472.5,141.2 472.6,141.3 472.8,142.6 472.1,142.1 474.0,143.5 476.2,146.1 477.6,149.3 477.7,149.8 475.2,150.3 474.4,150.3 474.6,148.3 473.2,146.9 473.2,145.3 471.2,143.8 470.1,144.0Z"/><path id="c_Vietnam" d="M476.3,140.0 474.8,142.9 476.0,145.0 478.7,147.7 480.4,152.5 480.3,155.0 476.8,156.7 476.3,158.2 473.7,159.6 473.5,157.4 472.7,156.7 473.2,156.3 474.0,155.9 475.4,155.8 475.2,155.3 475.2,155.3 475.8,154.5 475.9,154.5 477.6,153.3 477.7,149.8 477.6,149.3 476.2,146.1 474.0,143.5 472.8,142.6 472.6,141.3 472.5,141.2 472.9,140.6 470.5,140.0 469.3,137.4 471.3,136.9 474.1,135.9 476.3,136.7 476.2,138.0 478.4,138.8Z"/><path id="c_Malaysia" d="M486.2,168.3 487.8,166.1 487.9,166.0 487.9,167.0 490.0,167.0 490.0,165.1 489.7,165.1 490.9,163.8 492.2,162.2 493.6,163.2 494.5,164.3 495.9,165.1 494.4,166.2 493.4,166.7 490.3,166.6 489.8,168.6 489.0,170.3 487.5,171.2 484.6,171.2 482.3,172.0 480.9,170.3 482.0,170.7 483.7,169.5ZM472.4,171.2 471.3,171.4 467.9,169.0 466.6,165.4 466.0,163.2 466.3,162.7 467.5,163.3 467.5,164.0 468.8,163.9 469.1,163.5 471.2,166.2 471.3,169.0Z"/><path id="c_Thailand" d="M465.8,159.8 466.6,161.9 468.2,162.5 469.1,163.5 468.8,163.9 467.5,164.0 467.5,163.3 466.3,162.7 466.0,163.2 465.0,161.7 463.2,160.6 463.5,157.5 465.0,156.0 464.6,158.2ZM467.9,142.1 467.4,144.5 467.7,145.3 469.0,144.3 470.1,144.0 471.2,143.8 473.2,145.3 473.2,146.9 474.6,148.3 474.4,150.2 473.9,150.3 472.1,150.4 470.4,150.6 469.7,151.6 469.4,151.7 470.0,153.6 469.9,154.3 469.0,153.3 467.4,153.0 466.6,151.7 465.8,153.3 465.1,155.5 464.6,154.1 464.6,151.4 463.0,149.0 463.6,147.2 461.9,143.8 462.4,143.5 464.3,141.6 466.0,140.7 466.8,142.1Z"/><path id="c_Myanmar" d="M465.1,155.5 465.0,155.8 465.0,156.0 463.5,157.5 463.5,154.1 462.7,150.9 462.1,146.9 459.5,146.9 457.2,147.7 456.9,144.5 455.6,141.3 453.7,140.1 454.2,138.8 454.8,138.0 455.3,136.4 455.5,134.8 457.5,134.8 457.3,133.2 458.3,131.6 461.1,129.8 461.6,127.9 463.5,129.0 463.8,131.8 462.2,133.5 462.1,135.0 463.9,134.8 464.1,136.1 465.0,136.6 464.6,137.8 465.1,138.2 466.1,138.8 467.5,138.4 467.6,138.8 466.0,140.7 464.3,141.6 462.4,143.5 461.9,143.8 463.6,147.2 463.0,149.0 464.6,151.4 464.6,154.1 465.0,155.4Z"/><path id="c_SouthKorea" d="M506.9,119.9 506.9,119.6 507.2,119.4 507.8,119.4 508.0,119.6 508.0,119.9 507.8,120.0 507.2,120.0ZM511.9,116.3 511.3,116.9 509.0,117.6 507.2,117.9 507.4,115.5 507.7,113.9 506.8,112.7 508.2,111.8 510.4,111.3 511.9,113.9Z"/><path id="c_NorthKorea" d="M512.4,107.4 509.8,109.0 509.0,109.8 510.4,111.3 508.2,111.8 506.8,112.7 505.0,112.3 505.0,109.8 504.1,109.0 506.6,107.4 508.0,106.1 510.1,106.8 509.8,105.8 512.4,105.2 513.8,105.2 514.0,105.3Z"/><path id="c_Mongolia" d="M449.3,92.6 454.1,91.6 458.0,92.9 461.9,93.3 463.2,92.1 462.7,89.7 465.0,89.9 469.4,90.8 469.3,92.1 475.2,92.3 479.2,93.9 484.6,93.7 488.3,92.4 492.0,93.3 490.1,96.2 493.3,96.6 496.7,98.2 491.9,98.9 488.6,100.3 484.5,101.0 483.7,102.0 484.6,103.1 481.5,104.9 473.7,106.5 467.4,104.9 460.2,104.7 458.6,102.1 455.6,101.0 451.5,100.5 450.1,96.5 446.7,94.2Z"/><path id="c_Kazakhstan" d="M418.9,107.7 418.6,107.8 417.1,107.7 417.2,107.6 419.5,107.4ZM421.4,106.6 421.3,106.7 421.2,106.7 421.4,106.6ZM434.2,105.8 434.8,105.5 435.2,105.8ZM424.2,104.2 424.2,105.0 420.3,105.3 418.8,106.6 417.0,107.7 416.1,107.6 415.6,107.3 413.3,106.0 412.5,105.8 412.6,104.2 410.7,103.1 406.2,103.4 404.6,102.1 400.9,100.0 396.8,101.0 396.8,106.9 396.0,106.9 393.6,105.3 391.3,106.1 391.3,105.0 388.9,103.9 387.8,102.1 388.9,101.0 392.1,100.5 392.1,98.1 388.9,97.8 386.6,98.6 386.1,98.8 385.6,98.2 384.4,96.5 383.0,96.5 381.9,95.5 382.5,94.1 385.3,93.1 385.2,92.0 388.6,90.2 390.5,90.4 394.4,91.3 396.3,92.0 399.9,91.2 402.3,92.0 405.6,90.8 403.1,89.9 404.6,88.3 405.4,86.5 411.2,85.8 417.2,84.2 419.5,84.4 420.6,86.2 424.2,86.6 428.9,86.2 431.1,87.6 434.4,91.6 439.8,91.3 442.3,92.8 445.1,93.3 445.9,94.4 443.5,95.5 443.1,97.6 439.1,97.4 438.0,100.2 434.4,101.0 435.2,104.2 434.8,105.5 432.9,104.5 427.7,104.5Z"/><path id="c_China" d="M480.7,141.3 482.3,141.1 483.1,141.9 481.5,143.8 480.7,144.2 479.5,143.5 479.5,142.5ZM509.8,105.8 510.1,106.8 508.0,106.1 506.6,107.4 504.1,109.0 500.3,110.7 499.1,111.0 500.3,108.2 498.8,107.6 496.4,109.4 494.1,110.3 493.6,111.5 495.6,113.4 498.5,112.6 501.1,113.2 498.8,114.7 496.1,117.1 498.0,119.5 500.0,122.2 500.2,123.7 498.0,124.7 500.3,125.5 499.6,127.6 498.0,129.7 496.6,131.9 494.2,134.2 492.0,135.9 488.1,137.6 486.2,138.0 482.3,139.3 481.8,140.8 481.0,138.8 478.4,138.8 476.2,138.0 476.3,136.7 474.1,135.9 471.3,136.9 469.3,137.4 468.6,137.4 468.5,139.3 467.6,138.8 467.5,138.4 466.1,138.8 465.1,138.2 464.6,137.8 465.0,136.6 464.1,136.1 463.9,134.8 462.1,135.0 462.2,133.5 463.8,131.8 463.5,129.0 461.6,127.9 460.0,126.3 458.8,126.6 456.4,126.8 454.1,128.5 452.6,128.7 449.7,128.0 448.4,129.5 448.2,128.4 447.1,128.5 444.6,128.4 442.3,127.6 439.9,126.4 437.6,124.7 436.2,124.8 433.3,123.5 432.4,122.7 433.5,121.0 432.7,119.8 432.9,118.2 431.0,116.3 427.9,114.4 426.4,113.6 426.6,113.1 426.6,113.1 426.6,113.1 424.6,111.5 424.7,110.0 424.7,110.0 424.7,109.8 424.7,109.4 428.2,108.4 431.3,107.4 434.2,105.8 435.2,105.8 434.8,105.5 435.2,104.2 434.4,101.0 438.0,100.2 439.1,97.4 443.1,97.6 443.5,95.5 445.9,94.4 446.7,94.2 450.1,96.5 451.5,100.5 455.6,101.0 458.6,102.1 460.2,104.7 467.4,104.9 473.7,106.5 481.5,104.9 484.6,103.1 483.7,102.0 484.5,101.0 488.6,100.3 491.9,98.9 496.7,98.2 493.3,96.6 490.7,96.2 492.5,95.3 493.7,93.7 495.9,92.3 498.3,88.9 497.2,88.4 498.6,87.6 502.7,87.3 506.6,88.9 509.0,93.3 513.8,94.7 514.5,96.6 516.8,96.6 520.3,95.7 517.8,100.8 514.8,101.1 514.5,104.2 513.8,105.2 512.4,105.2Z"/><path id="c_Swaziland" d="M358.2,214.9 359.1,215.2 359.3,216.7 359.0,217.5 357.6,217.3 357.2,216.3 357.2,215.4Z"/><path id="c_Lesotho" d="M352.5,220.0 354.1,219.6 355.0,220.8 354.6,222.0 353.2,222.8 351.9,222.1 351.3,221.2Z"/><path id="c_Gambia" d="M282.6,152.2 282.6,151.6 282.5,151.5 283.0,151.6 285.4,151.2 287.3,151.6 287.3,152.1 285.7,152.1 284.6,152.2 282.6,152.3Z"/><path id="c_Morocco" d="M305.5,116.9 306.3,119.5 306.9,121.6 304.2,122.2 303.3,123.7 300.3,125.3 297.9,126.0 295.3,127.2 295.3,128.9 288.5,128.9 290.9,127.6 293.2,126.0 293.5,123.5 294.3,121.1 297.0,119.3 298.7,118.2 299.7,115.8 300.6,115.6 302.6,116.8 304.4,116.6Z"/><path id="c_WesternSahara" d="M283.8,135.6 285.7,132.4 288.5,128.9 295.3,128.9 295.3,131.6 290.1,131.6 290.1,135.6 288.5,136.4 288.5,139.2 282.4,139.2Z"/><path id="c_Tunisia" d="M324.3,113.4 325.1,114.0 326.2,113.9 325.6,115.5 326.0,116.8 324.9,118.2 325.6,119.2 327.0,120.0 327.0,121.1 325.1,122.2 324.9,123.5 323.8,124.8 323.0,121.9 320.8,119.8 321.9,117.6 321.9,115.5 322.4,114.0Z"/><path id="c_Libya" d="M324.9,123.5 325.1,122.2 327.0,121.1 327.0,120.3 327.0,120.0 329.6,120.5 332.8,121.3 333.4,122.9 336.4,123.7 338.7,124.7 340.3,123.5 340.5,121.6 342.7,120.5 345.2,121.0 348.3,122.6 348.1,126.8 348.1,138.0 348.1,141.3 346.6,141.3 346.6,142.1 332.5,136.4 331.2,137.1 327.7,135.6 324.6,134.0 323.8,131.6 324.6,130.0 324.3,127.6 323.8,124.8Z"/><path id="c_Egypt" d="M348.1,126.8 348.3,122.6 351.3,123.1 354.4,123.7 356.0,123.1 357.6,122.6 359.6,123.1 362.6,123.1 363.7,126.0 362.9,128.4 362.6,128.9 361.5,127.9 360.1,125.3 359.8,126.0 360.7,127.9 362.0,129.7 363.1,132.1 364.6,134.8 364.9,136.4 366.8,138.0 348.1,138.0Z"/><path id="c_Mauritania" d="M283.8,144.5 283.3,142.1 282.2,139.6 282.4,139.2 288.5,139.2 288.5,136.4 290.1,135.6 290.1,131.6 295.3,131.6 295.3,129.5 301.4,133.2 298.7,133.2 300.1,146.9 300.6,147.2 300.3,148.5 294.3,148.5 292.1,148.7 290.9,148.3 289.8,149.6 288.1,147.5 286.2,146.7 283.0,147.7Z"/><path id="c_Senegal" d="M282.6,152.3 284.6,152.2 285.7,152.1 287.3,152.1 287.3,151.6 285.4,151.2 283.0,151.6 282.5,151.5 281.5,149.8 283.0,147.7 286.2,146.7 288.1,147.5 289.8,149.6 291.0,153.5 287.4,153.2 285.4,153.0 282.7,153.5Z"/><path id="c_GuineaBissau" d="M283.8,154.5 282.7,153.5 285.4,153.0 287.4,153.2 287.4,154.6 285.9,155.0 285.2,155.8Z"/><path id="c_SierraLeone" d="M288.5,160.6 288.1,159.0 289.3,157.5 291.3,157.4 292.3,158.7 292.8,159.8 290.9,162.4Z"/><path id="c_Liberia" d="M294.8,165.4 292.0,163.3 290.9,162.4 292.8,159.8 294.2,159.9 294.3,161.6 295.6,161.2 295.7,163.0 297.2,164.6 297.2,166.4Z"/><path id="c_Guinea" d="M294.3,161.6 294.2,159.9 292.8,159.8 292.3,158.7 291.3,157.4 289.3,157.5 288.1,159.0 287.4,158.2 285.7,156.1 285.2,155.8 285.9,155.0 287.4,154.6 287.4,153.2 291.0,153.5 292.8,153.8 295.1,154.1 295.9,155.8 296.5,157.0 296.1,158.2 296.8,159.9 295.6,161.2Z"/><path id="c_IvoryCoast" d="M301.1,165.3 297.2,166.4 297.2,164.6 295.7,163.0 295.6,161.2 296.8,159.9 296.1,158.2 296.5,157.0 299.2,156.4 300.3,156.7 301.9,157.9 304.5,158.0 304.7,160.6 303.9,162.5 304.5,165.1 304.1,165.3Z"/><path id="c_Togo" d="M310.8,163.7 309.9,162.2 309.9,159.8 309.7,157.4 308.9,155.6 310.3,155.8 310.2,156.7 311.4,159.0 311.4,163.5Z"/><path id="c_Ghana" d="M310.8,163.7 310.5,163.8 308.9,164.5 305.8,165.7 304.1,165.3 304.5,165.1 303.9,162.5 304.7,160.6 304.5,158.0 304.5,155.8 308.9,155.6 309.7,157.4 309.9,159.8 309.9,162.2 310.5,163.1Z"/><path id="c_Benin" d="M311.4,163.5 311.4,159.0 310.2,156.7 310.3,155.8 312.1,154.8 312.7,154.3 314.6,154.6 314.9,156.6 313.3,159.0 313.2,163.2Z"/><path id="c_BurkinaFaso" d="M312.1,154.8 310.3,155.8 308.9,155.6 304.5,155.8 304.5,158.0 301.9,157.9 300.3,156.7 300.3,155.0 301.9,153.3 302.6,151.9 304.5,150.9 305.8,149.6 308.4,149.3 309.2,149.5 309.5,150.9 310.5,152.1 312.4,153.3 312.7,154.3Z"/><path id="c_Mali" d="M308.4,149.3 305.8,149.6 304.5,150.9 302.6,151.9 301.9,153.3 300.3,155.0 300.3,156.7 299.2,156.4 296.5,157.0 295.9,155.8 295.1,154.1 292.8,153.8 291.0,153.5 289.8,149.6 290.9,148.3 292.1,148.7 294.3,148.5 300.3,148.5 300.6,147.2 300.1,146.9 298.7,133.2 301.4,133.2 310.8,139.5 310.8,140.1 313.9,141.6 314.1,142.9 315.5,142.7 315.5,146.3 314.6,148.5 311.0,148.8 309.2,149.5Z"/><path id="c_Algeria" d="M314.1,142.9 313.9,141.6 310.8,140.1 310.8,139.5 301.4,133.2 295.3,129.5 295.3,128.9 295.3,127.2 297.9,126.0 300.3,125.3 303.3,123.7 304.2,122.2 306.9,121.6 306.3,119.5 305.5,116.9 307.4,116.0 308.9,115.6 311.3,114.7 313.6,114.2 316.8,114.2 319.9,113.9 322.4,114.0 321.9,115.5 321.9,117.6 320.8,119.8 323.0,121.9 323.8,124.8 324.3,127.6 324.6,130.0 323.8,131.6 324.6,134.0 327.7,135.6 320.7,140.0 318.0,142.1 315.5,142.7Z"/><path id="c_Niger" d="M311.0,148.8 314.4,148.5 314.6,148.5 315.5,146.3 315.5,142.7 318.0,142.1 320.7,140.0 327.7,135.6 331.2,137.1 332.5,136.4 333.2,139.6 333.2,141.3 333.2,146.3 330.3,150.1 330.1,151.4 328.5,152.4 324.6,152.1 321.5,152.1 319.6,152.4 317.5,151.1 315.4,151.7 314.6,154.6 312.7,154.3 312.4,153.3 310.5,152.1 309.5,150.9 309.2,149.5 309.9,149.2Z"/><path id="c_EquatorialGuinea" d="M326.6,169.9 326.6,171.9 324.0,171.9 324.3,169.8ZM322.1,167.6 322.6,167.4 323.0,167.6 323.0,168.1 322.6,168.3 322.1,168.1Z"/><path id="c_Nigeria" d="M319.9,166.4 318.3,166.6 316.8,164.6 315.2,163.3 313.2,163.2 313.3,159.0 314.9,156.6 314.6,154.6 315.4,151.7 317.5,151.1 319.6,152.4 321.5,152.1 324.6,152.1 328.5,152.4 330.1,151.4 331.2,152.9 331.7,153.7 330.6,155.8 329.0,159.5 327.4,162.0 326.6,162.8 324.6,163.0 323.0,164.1 322.4,166.2Z"/><path id="c_Cameroon" d="M324.3,169.8 324.1,167.8 323.7,167.0 322.4,166.2 323.0,164.1 324.6,163.0 326.6,162.8 327.4,162.0 329.0,159.5 330.6,155.8 331.7,153.7 331.2,152.9 331.0,152.4 332.3,153.0 332.6,155.0 333.1,157.4 330.9,157.4 332.5,159.5 333.2,161.4 331.7,163.8 331.8,165.4 332.6,167.4 334.2,169.8 334.3,170.7 329.8,169.9 326.6,169.9Z"/><path id="c_Gabon" d="M323.0,175.1 322.7,174.6 323.7,173.2 324.0,171.9 326.6,171.9 326.6,169.9 329.8,169.9 331.8,171.1 332.1,174.3 331.8,176.4 331.5,176.3 331.5,176.5 330.6,177.3 328.5,176.7 327.1,177.5 327.7,179.1 326.3,179.8 324.3,177.5Z"/><path id="c_Chad" d="M332.5,159.5 330.9,157.4 333.1,157.4 332.6,155.0 332.3,153.0 331.0,152.4 331.2,152.9 330.1,151.4 330.3,150.1 333.2,146.3 333.2,141.3 333.2,139.6 332.5,136.4 346.6,142.1 346.6,148.2 344.9,148.2 344.1,150.9 343.4,153.0 344.2,155.8 344.9,155.9 343.0,156.4 340.9,158.8 338.7,159.0 338.1,160.6 335.6,161.1 333.2,161.4Z"/><path id="c_Eritrea" d="M373.4,151.5 369.3,150.1 367.8,150.4 366.2,150.4 366.8,146.6 369.3,144.5 370.9,148.3 373.2,150.1 375.6,152.2 376.5,153.0 375.4,153.3 374.0,152.1 371.7,150.1Z"/><path id="c_Djibouti" d="M376.5,153.0 376.9,154.8 376.9,155.1 376.1,155.9 374.5,155.8 375.4,153.3Z"/><path id="c_Somalia" d="M385.0,165.4 382.7,168.2 382.5,168.3 380.0,170.3 377.2,172.7 374.8,175.1 374.2,176.2 373.2,175.1 373.2,173.5 373.2,168.6 374.8,167.0 376.4,166.6 379.5,165.4 384.2,160.6 382.7,160.6 378.0,159.0 376.4,158.2 376.1,155.9 376.9,155.1 378.7,156.6 382.7,155.4 385.8,155.3 389.3,154.3 389.1,156.6 388.2,159.0 386.6,162.2 385.6,164.2Z"/><path id="c_Sudan" d="M360.6,153.9 361.0,153.8 359.6,154.1 359.8,154.6 357.6,157.7 356.0,156.9 354.4,157.9 352.9,158.5 350.5,158.2 347.8,157.7 346.9,159.5 345.8,159.5 346.1,157.5 344.9,155.9 344.2,155.8 343.4,153.0 344.1,150.9 344.9,148.2 346.6,148.2 346.6,142.1 346.6,141.3 348.1,141.3 348.1,138.0 366.8,138.0 367.3,139.6 367.3,141.9 369.1,144.2 369.3,144.5 368.3,145.3 366.8,146.6 366.2,150.4 365.6,153.0 364.3,154.1 363.8,155.8 362.7,156.4 362.4,158.2 362.1,158.2 360.9,156.2 361.0,154.2Z"/><path id="c_Ethiopia" d="M372.5,167.0 370.9,168.0 368.5,167.7 366.8,166.4 365.2,166.1 363.8,164.6 362.3,162.2 360.7,160.6 362.4,158.2 362.9,156.3 363.8,155.8 364.3,154.1 365.6,153.0 366.2,150.4 367.8,150.4 369.3,150.1 373.4,151.5 374.0,152.1 375.4,153.3 374.5,155.8 376.1,155.9 376.4,158.2 378.0,159.0 382.7,160.6 384.2,160.6 379.5,165.4 376.4,166.6 374.8,167.0 373.8,168.1 373.7,167.8Z"/><path id="c_SouthSudan" d="M350.5,158.2 352.9,158.5 354.4,157.9 356.0,156.9 357.6,157.7 359.8,154.6 359.6,154.1 360.6,153.9 361.0,154.2 360.9,156.2 362.1,158.2 362.4,158.2 360.7,160.6 362.3,162.2 363.8,164.6 365.2,166.1 362.3,166.7 359.1,167.7 357.4,167.8 355.2,166.2 352.9,166.4 351.9,164.9 350.3,162.8 348.5,161.4 346.9,159.5 347.8,157.7ZM362.4,158.2 362.7,156.4 362.9,156.3Z"/><path id="c_CentralAfricanRepublic" d="M334.2,169.8 332.6,167.4 331.8,165.4 331.7,163.8 333.2,161.4 335.6,161.1 338.1,160.6 338.7,159.0 340.9,158.8 343.0,156.4 344.9,155.9 346.1,157.5 345.8,159.5 346.9,159.5 348.5,161.4 350.3,162.8 351.9,164.9 348.9,165.1 347.2,165.3 344.9,165.7 344.1,166.9 341.2,166.4 339.5,165.3 338.1,166.4 338.1,167.8 335.0,167.8 334.3,170.7Z"/><path id="c_RepublicofCongo" d="M326.3,179.8 327.7,179.1 327.1,177.5 328.5,176.7 330.6,177.3 331.5,176.5 331.5,176.3 331.8,176.4 332.1,174.3 331.8,171.1 329.8,169.9 334.3,170.7 335.0,167.8 338.1,167.8 337.3,169.8 336.8,173.0 335.1,176.2 334.0,179.1 332.8,180.6 331.5,181.4 329.9,181.4 329.5,180.9 328.7,180.7 327.7,181.5Z"/><path id="c_Kenya" d="M372.0,178.0 371.2,179.9 370.4,181.1 367.9,179.1 368.1,178.5 362.1,175.1 362.3,173.0 363.1,171.9 363.8,170.7 363.1,167.8 362.3,166.7 365.2,166.1 366.8,166.4 368.5,167.7 370.9,168.0 372.5,167.0 373.7,167.8 373.8,168.1 373.2,168.6 373.2,173.5 373.2,175.1 374.2,176.2Z"/><path id="c_Rwanda" d="M354.9,175.9 355.4,175.7 356.8,175.2 357.3,177.2 356.8,177.3 355.8,178.0 354.4,177.8Z"/><path id="c_Burundi" d="M356.8,177.3 357.3,177.3 356.8,178.2 357.2,178.8 356.0,180.6 355.0,180.6 354.7,178.8 354.4,178.0 355.8,178.0Z"/><path id="c_Uganda" d="M356.7,175.2 355.4,175.7 355.4,174.3 355.8,172.7 356.8,171.5 358.0,170.1 357.2,169.8 357.4,167.8 359.1,167.7 362.3,166.7 363.1,167.8 363.8,170.7 363.1,171.9 362.3,173.0 362.1,175.1 356.8,175.1Z"/><path id="c_Malawi" d="M362.1,188.8 363.1,189.6 363.2,192.2 363.7,195.2 365.2,197.2 365.1,199.3 364.3,201.0 362.7,199.3 362.9,196.8 361.0,196.0 360.2,195.4 360.7,193.6 361.2,190.9 360.7,188.9Z"/><path id="c_Tanzania" d="M362.3,188.9 362.3,188.6 360.7,188.9 360.5,188.6 359.1,188.0 357.2,186.9 355.5,184.0 355.0,180.7 355.1,180.6 356.0,180.6 357.2,178.8 356.8,178.2 357.3,177.3 356.8,177.3 357.3,177.2 356.8,175.2 356.7,175.2 356.8,175.1 362.1,175.1 368.1,178.5 367.9,179.1 370.4,181.1 369.8,183.1 370.6,184.4 370.9,187.2 371.7,189.6 372.3,190.4 369.3,191.7 367.8,192.3 365.4,192.2 363.7,192.2 363.1,188.5 363.5,191.2 363.1,191.2 363.1,189.6ZM370.6,182.8 371.1,183.0 371.1,183.6 370.6,183.8 370.1,183.6 370.1,183.0ZM371.3,181.5 371.6,181.7 371.6,182.1 371.3,182.2 371.0,182.1 371.0,181.7Z"/><path id="c_Mozambique" d="M372.9,196.8 371.7,199.6 368.5,201.3 366.8,202.5 363.8,205.4 363.5,206.8 364.5,208.9 364.6,211.8 362.0,214.1 360.5,215.2 360.5,216.8 359.3,216.7 359.1,215.2 359.0,215.2 359.1,212.9 358.0,209.6 359.8,207.8 360.7,205.7 360.2,204.1 360.7,202.5 360.4,200.4 356.6,198.6 356.3,197.6 361.0,196.0 362.9,196.8 362.7,199.3 364.3,201.0 365.1,199.3 365.2,197.2 363.7,195.2 363.2,192.2 363.1,191.2 363.5,191.2 363.7,192.2 365.4,192.2 367.8,192.3 369.3,191.7 372.3,190.4 372.6,193.6Z"/><path id="c_Zimbabwe" d="M360.4,200.4 360.7,202.5 360.2,204.1 360.7,205.7 359.8,207.8 358.0,209.6 355.0,209.2 352.9,208.3 352.4,206.5 349.7,204.9 348.6,202.2 351.3,202.3 354.3,199.3 354.4,198.9 356.6,198.6Z"/><path id="c_Botswana" d="M352.9,208.3 355.0,209.2 353.3,209.9 351.1,211.7 348.9,214.9 345.0,214.2 343.0,216.7 341.4,216.7 340.3,213.4 340.3,208.9 341.9,208.9 341.9,203.0 345.1,203.2 345.9,203.3 346.7,202.9 346.7,202.7 347.6,202.5 347.6,202.5 348.6,202.2 349.7,204.9 352.4,206.5ZM350.4,202.3 348.6,202.2 349.7,201.7Z"/><path id="c_Namibia" d="M332.8,217.0 331.7,212.9 331.7,210.0 329.8,206.5 328.2,203.3 327.4,201.3 329.3,200.9 330.9,201.5 337.9,201.5 342.5,202.5 345.6,201.8 348.6,201.8 348.6,202.2 347.7,202.5 344.6,203.2 341.9,203.0 341.9,208.9 340.3,208.9 340.3,213.4 340.3,219.2 336.4,219.9 334.8,219.6Z"/><path id="c_SouthAfrica" d="M349.2,228.3 345.8,228.4 343.4,228.6 340.3,229.5 337.9,228.7 337.6,226.6 337.5,224.5 336.1,221.8 334.8,219.6 336.4,219.9 340.3,219.2 340.3,213.4 341.4,216.7 343.0,216.7 345.0,214.2 348.9,214.9 351.1,211.7 353.3,209.9 355.0,209.2 356.0,209.3 358.0,209.6 358.7,211.5 359.1,212.9 359.0,215.2 358.2,214.9 357.2,215.4 357.2,216.3 357.6,217.3 359.0,217.5 359.3,216.7 360.5,216.8 359.9,219.4 357.6,221.6 356.0,223.9 353.6,226.2 351.3,227.4ZM355.0,220.8 354.1,219.6 352.5,220.0 351.3,221.2 351.9,222.1 353.2,222.8 354.6,222.0Z"/><path id="c_Zambia" d="M347.6,202.5 347.6,202.5 347.7,202.5ZM360.7,188.9 361.2,190.9 360.7,193.6 360.2,195.4 361.0,196.0 356.3,197.6 356.6,198.6 354.4,198.9 354.3,199.3 351.3,202.3 350.4,202.3 349.7,201.7 348.6,202.2 348.6,201.8 345.6,201.8 343.4,199.6 343.4,194.4 346.6,194.4 346.6,191.7 348.6,192.2 349.7,192.7 351.3,192.8 353.5,193.6 354.4,195.1 355.7,195.1 355.7,193.1 354.4,193.5 353.5,192.5 353.8,189.6 353.8,188.3 354.3,187.2 357.2,186.9 359.1,188.0 360.5,188.6ZM362.3,188.9 362.1,188.8 360.7,188.9 362.3,188.6Z"/><path id="c_Angola" d="M345.1,203.2 344.6,203.2 346.7,202.7 346.7,202.9 345.9,203.3ZM329.0,184.8 328.2,183.1 329.3,183.0 335.0,183.0 335.6,184.8 337.2,186.4 339.5,186.4 339.5,184.8 343.1,185.2 343.1,188.8 343.9,191.2 346.6,191.0 346.6,191.7 346.6,194.4 343.4,194.4 343.4,199.6 345.6,201.8 342.5,202.5 337.9,201.5 330.9,201.5 329.3,200.9 327.4,201.3 327.4,199.3 328.5,195.7 329.9,193.6 330.6,191.2 329.6,188.0ZM329.5,180.9 329.3,182.8 328.1,182.8 328.1,182.7 327.7,181.5 328.7,180.7Z"/><path id="c_DemocraticRepublicoftheCongo" d="M329.9,181.4 331.5,181.4 332.8,180.6 334.0,179.1 335.1,176.2 336.8,173.0 337.3,169.8 338.1,167.8 338.1,166.4 339.5,165.3 341.2,166.4 344.1,166.9 344.9,165.7 347.2,165.3 348.9,165.1 351.9,164.9 352.9,166.4 355.2,166.2 357.4,167.8 357.2,169.8 358.0,170.1 356.8,171.5 355.8,172.7 355.4,174.3 355.4,175.7 354.9,175.9 354.4,177.8 355.8,178.0 354.4,178.0 354.7,178.8 355.0,180.6 355.1,180.6 355.0,180.7 355.5,184.0 357.2,186.9 354.3,187.2 353.8,188.3 353.8,189.6 353.5,192.5 354.4,193.5 355.7,193.1 355.7,195.1 354.4,195.1 353.5,193.6 351.3,192.8 349.7,192.7 348.6,192.2 346.6,191.7 346.6,191.0 343.9,191.2 343.1,188.8 343.1,185.2 339.5,184.8 339.5,186.4 337.2,186.4 335.6,184.8 335.0,183.0 329.3,183.0 328.2,183.1 328.1,182.8 329.3,182.8 329.5,180.9Z"/><path id="c_USA" d="M30.1,90.5 29.6,90.7 29.2,90.5 29.2,89.9 29.6,89.7 30.1,89.9ZM32.5,90.4 31.8,90.7 31.2,90.4 31.2,89.6 31.8,89.4 32.5,89.6ZM36.1,89.8 35.4,90.1 34.7,89.8 34.7,89.0 35.4,88.7 36.1,89.0ZM38.3,89.7 37.8,89.5 37.8,88.9 38.3,88.7 38.7,88.9 38.7,89.5ZM41.4,89.1 40.9,88.9 40.9,88.2 41.4,88.0 42.0,88.2 42.0,88.9ZM45.3,88.3 44.5,88.6 43.8,88.3 43.8,87.3 44.5,87.0 45.3,87.3ZM48.6,87.4 47.7,87.8 46.7,87.4 46.7,86.2 47.7,85.8 48.6,86.2ZM43.3,82.5 43.0,82.6 42.7,82.5 42.7,82.1 43.0,82.0 43.3,82.1ZM48.0,77.6 47.1,77.2 47.1,76.1 48.0,75.7 48.9,76.1 48.9,77.2ZM40.6,72.8 39.2,72.2 39.2,70.5 40.6,69.9 42.0,70.5 42.0,72.2ZM197.5,106.6 196.0,107.4 192.8,108.2 192.0,110.2 190.9,111.5 189.2,112.3 189.7,114.0 190.5,116.6 188.9,117.6 186.5,118.9 184.2,120.3 181.8,121.9 181.2,124.3 182.5,127.6 183.4,130.3 182.9,132.7 181.5,132.9 180.3,130.8 179.2,128.7 178.7,126.8 176.7,125.1 174.0,124.7 170.8,124.7 168.5,124.8 169.0,126.6 167.4,126.6 165.4,126.0 163.0,125.6 160.3,126.1 158.3,127.4 156.3,129.2 156.4,131.8 153.4,130.9 152.8,129.2 151.5,127.9 149.8,125.5 148.1,125.5 147.0,126.8 145.0,125.8 144.2,124.2 141.8,122.2 139.2,122.2 139.2,123.1 134.6,123.1 128.8,121.1 129.0,120.8 125.2,121.1 125.1,121.1 125.0,121.0 123.0,118.7 119.5,117.7 117.7,114.5 116.7,112.6 114.8,110.7 114.1,108.2 113.7,104.5 114.4,101.8 114.1,98.6 113.3,95.5 115.9,95.8 116.7,96.2 116.2,94.5 159.6,94.5 159.6,93.9 160.5,95.0 164.6,95.7 168.5,96.2 170.2,95.7 175.9,98.1 176.3,98.6 177.9,99.7 179.5,100.5 179.6,104.2 178.5,105.5 179.5,106.3 185.0,104.5 185.0,103.7 185.0,103.2 188.9,102.4 191.2,101.0 196.7,101.0 198.6,99.5 199.1,98.2 200.3,97.0 201.8,97.2 202.5,97.6 202.5,99.9 203.2,100.7 203.8,101.1 201.4,102.1 198.8,103.2 197.8,105.0 199.1,106.1ZM590.2,90.2 589.8,90.4 589.3,90.2 589.3,89.6 589.8,89.4 590.2,89.6ZM587.6,90.0 587.1,90.2 586.6,90.0 586.6,89.4 587.1,89.2 587.6,89.4ZM580.4,88.9 579.7,88.6 579.7,87.9 580.4,87.6 581.0,87.9 581.0,88.6ZM57.4,85.0 56.9,84.8 56.9,84.4 56.3,84.6 53.2,85.4 50.3,85.5 53.2,84.9 56.3,83.4 59.4,82.3 61.8,80.8 62.3,78.8 60.2,78.8 57.1,78.9 54.7,78.4 54.4,76.8 51.6,77.0 50.0,75.5 48.5,74.4 49.3,73.9 50.8,72.0 54.0,71.2 56.6,70.7 56.3,69.1 53.2,69.6 47.7,69.4 45.2,67.8 48.5,66.7 51.9,67.0 55.5,66.5 52.4,65.5 51.6,64.6 47.7,63.3 52.4,62.3 54.7,60.4 59.4,59.4 63.4,58.6 70.4,59.3 75.1,59.9 81.4,60.7 87.7,61.4 87.7,76.3 90.8,76.7 93.2,78.4 94.8,77.6 97.1,77.5 99.5,79.2 101.8,81.7 105.0,83.3 104.6,85.2 102.6,84.9 101.3,84.4 101.3,84.6 100.6,84.9 99.8,84.6 99.8,83.7 99.1,83.3 98.5,83.0 98.5,82.9 97.9,82.5 97.0,81.7 96.6,81.8 95.7,81.4 95.7,80.5 95.5,80.4 93.2,79.1 90.0,77.3 86.9,77.0 83.0,76.7 79.8,75.5 77.5,75.2 75.9,76.8 73.6,77.8 71.2,77.6 74.4,75.4 72.8,74.7 70.4,75.9 68.1,77.9 67.3,79.4 64.9,80.7 62.6,82.3 59.4,83.7 57.7,84.2 57.9,84.3 57.9,84.8ZM66.5,81.7 68.9,80.0 70.4,80.4 68.9,81.7Z"/><path id="c_Belize" d="M170.4,146.1 169.4,147.9 169.0,147.9 169.0,144.8 170.4,143.7 170.7,143.7Z"/><path id="c_Guatemala" d="M169.0,147.9 169.4,147.9 170.4,148.2 169.0,149.6 168.7,150.3 167.6,151.3 167.5,151.4 166.1,151.1 164.3,150.1 164.3,149.0 165.0,147.7 166.9,147.5 165.5,145.8 166.1,145.7 166.1,144.8 169.0,144.8Z"/><path id="c_ElSalvador" d="M170.8,152.4 167.6,151.4 167.5,151.4 167.6,151.3 168.7,150.3 170.1,150.9 171.2,151.1 171.3,151.9 171.3,152.2Z"/><path id="c_Honduras" d="M174.0,147.9 176.3,148.0 178.4,149.3 175.6,150.0 174.3,151.1 172.9,151.2 171.9,152.5 171.9,152.6 171.5,152.1 171.3,152.2 171.3,151.9 171.2,151.1 170.1,150.9 168.7,150.3 169.0,149.6 170.4,148.2 171.3,147.9 172.4,147.9Z"/><path id="c_Nicaragua" d="M177.6,153.3 177.6,155.8 177.7,155.9 177.6,155.9 176.0,155.8 174.5,155.6 174.4,155.6 174.0,155.0 172.4,153.2 171.9,152.6 171.9,152.5 172.9,151.2 174.3,151.1 175.6,150.0 178.4,149.3 178.1,150.9Z"/><path id="c_CostaRica" d="M179.3,158.0 178.8,159.0 178.8,160.3 178.7,160.3 177.6,159.3 175.9,157.9 174.3,157.4 174.5,155.8 174.4,155.6 174.5,155.6 176.0,155.8 177.6,155.9 177.7,155.9 177.9,156.6Z"/><path id="c_Panama" d="M181.8,159.3 184.0,158.2 185.8,158.3 187.5,159.5 186.7,161.9 186.1,160.1 184.2,159.0 183.1,160.1 183.4,161.2 182.1,161.7 180.6,160.8 178.8,160.3 178.8,159.0 179.3,158.0 179.9,158.7Z"/><path id="c_Mexico" d="M167.2,139.5 170.8,138.7 172.7,139.3 171.6,142.1 170.7,143.7 170.4,143.7 169.0,144.8 166.1,144.8 166.1,145.7 165.5,145.8 166.9,147.5 165.0,147.7 164.3,149.0 164.3,150.1 162.2,148.8 159.9,147.5 155.9,147.9 152.0,146.3 148.9,144.6 145.3,142.9 143.4,140.5 143.4,138.4 142.0,136.1 139.8,134.0 137.4,131.6 135.5,129.2 132.9,126.0 131.6,123.2 128.8,122.4 130.1,125.5 131.9,128.4 134.0,131.6 135.5,134.0 137.1,135.9 136.3,136.6 133.2,134.0 132.4,132.4 129.7,128.7 128.5,126.8 126.1,123.5 125.1,121.1 125.2,121.1 129.0,120.8 128.8,121.1 134.6,123.1 139.2,123.1 139.2,122.2 141.8,122.2 144.2,124.2 145.0,125.8 147.0,126.8 148.1,125.5 149.8,125.5 151.5,127.9 152.8,129.2 153.4,130.9 156.4,131.8 155.8,134.0 155.5,137.2 156.3,139.6 157.7,142.1 158.6,143.2 161.4,144.0 164.9,143.5 166.6,141.7Z"/><path id="c_Canada" d="M106.5,87.6 104.6,86.2 104.6,85.2 105.0,83.3 101.8,81.7 99.5,79.2 97.1,77.5 94.8,77.6 93.2,78.4 90.8,76.7 87.7,76.3 87.7,61.4 90.8,61.5 95.5,62.3 100.2,61.5 105.7,60.7 109.7,60.2 113.6,60.7 120.6,61.5 127.7,62.5 130.1,63.9 135.5,64.1 139.5,65.5 138.7,63.6 144.2,63.6 148.1,64.3 152.0,64.1 156.7,64.3 161.4,62.6 159.1,61.5 158.3,59.1 160.6,57.5 163.8,59.1 166.9,61.5 170.8,62.3 170.8,64.7 174.0,64.3 175.6,61.0 180.3,61.2 181.4,63.1 181.0,65.5 177.1,66.7 174.0,67.2 172.4,68.3 170.8,70.4 166.5,71.5 163.0,73.6 160.2,76.8 161.1,78.8 163.8,81.7 166.9,81.3 170.8,82.5 175.6,84.2 179.9,84.9 179.8,88.3 182.6,90.8 185.4,90.8 185.3,88.9 184.2,86.5 185.8,85.2 188.9,83.3 188.4,81.7 185.8,78.9 187.3,77.6 186.5,75.2 187.3,72.8 192.0,73.1 196.0,73.9 199.9,75.5 199.9,78.4 202.2,79.6 206.2,77.6 207.7,76.3 210.9,79.2 212.4,81.7 214.8,84.1 218.7,85.7 221.1,87.1 221.5,88.9 219.5,90.5 214.8,92.4 210.1,92.4 204.6,92.6 202.2,94.2 199.9,96.2 198.3,97.8 201.4,95.5 204.6,94.4 207.7,94.7 206.9,96.5 207.7,98.9 208.0,99.0 208.0,98.2 208.8,97.9 210.8,97.9 211.6,98.2 211.6,99.1 210.8,99.4 208.9,99.4 209.3,99.5 212.4,99.7 214.0,97.8 214.8,99.4 213.2,100.5 208.5,101.8 205.2,103.1 207.2,100.0 205.4,100.7 203.8,101.1 203.2,100.7 202.5,99.9 202.5,97.6 201.8,97.2 200.3,97.0 199.1,98.2 198.6,99.5 196.7,101.0 191.2,101.0 188.9,102.4 185.0,103.2 185.0,103.7 185.0,104.5 179.5,106.3 178.5,105.5 179.6,104.2 179.5,100.5 177.9,99.7 176.3,98.6 175.9,98.1 170.2,95.7 168.5,96.2 164.6,95.7 160.5,95.0 159.6,93.9 159.6,94.5 116.2,94.5 115.1,94.1 112.8,92.9 112.4,92.8 115.1,95.0 115.3,95.5 112.8,95.0 110.0,93.3 107.5,91.6 111.3,92.3 108.9,91.3 108.1,89.7ZM102.3,86.5 103.4,89.4 101.3,88.1 100.2,86.3ZM155.2,63.0 152.8,62.3 154.4,61.2 157.5,61.0 159.1,61.8 158.3,62.8ZM127.7,62.3 125.0,60.9 126.9,60.4 132.4,60.1 124.6,59.7 123.3,58.5 126.9,58.3 123.0,56.8 124.6,55.9 129.3,55.2 131.6,56.2 136.3,55.9 139.5,55.4 142.4,54.9 142.6,54.7 144.6,54.9 144.2,55.9 143.9,55.9 144.2,56.0 139.8,57.2 144.2,58.3 145.0,59.4 148.9,60.2 150.5,61.4 147.3,62.6 142.6,62.5 138.7,63.0 131.6,63.1ZM157.0,57.2 154.4,58.5 151.2,58.3 148.9,57.5 148.9,55.9 151.2,54.6 154.4,54.4 156.7,55.6ZM119.1,53.5 123.0,53.9 126.9,54.6 124.6,55.6 122.2,57.2 119.9,58.3 118.3,58.6 115.9,58.9 112.0,57.6 111.4,56.0 113.1,54.4 114.7,53.6ZM137.9,53.3 131.6,53.5 130.1,52.7 125.3,51.8 130.1,50.4 137.9,49.9 142.6,51.0 143.4,52.7ZM154.4,52.5 149.7,52.7 145.7,52.3 147.3,50.6 151.2,49.9 154.4,50.2 155.9,51.5ZM115.9,51.0 122.2,48.8 127.7,48.9 125.3,50.6 120.6,51.4ZM132.4,47.7 136.3,48.1 134.8,49.1 130.1,48.9ZM155.2,47.8 155.5,46.9 157.5,46.5 159.9,47.3 158.3,48.1ZM133.2,46.4 137.1,46.5 136.3,47.5 131.6,47.3ZM147.3,47.8 142.6,47.5 144.2,46.2 148.9,45.7 153.6,46.4 152.8,47.3ZM221.8,90.4 221.8,92.9 224.5,93.7 225.0,95.3 226.4,97.0 225.8,98.2 221.8,97.9 218.7,96.8 215.9,96.8 215.9,96.5 217.1,94.9 218.7,92.9 219.5,91.3ZM212.1,93.4 212.1,94.1 211.1,94.4 208.7,94.4 207.7,94.1 207.7,93.4 208.7,93.1 211.1,93.1ZM183.4,87.9 183.4,88.3 182.7,88.4 181.0,88.4 180.3,88.3 180.3,87.9 181.0,87.8 182.7,87.8ZM184.7,73.2 184.7,74.0 184.2,74.2 183.1,74.2 182.6,74.0 182.6,73.2 183.1,73.0 184.2,73.0ZM182.6,72.4 182.6,73.0 181.8,73.3 179.6,73.3 178.7,73.0 178.7,72.4 179.6,72.1 181.8,72.1ZM179.5,70.9 174.8,71.7 172.4,70.7 174.0,69.6 172.4,68.3 175.6,67.5 177.9,68.0 181.8,70.1 182.6,71.0ZM188.4,63.4 190.8,63.6 190.5,65.2 188.1,65.2ZM187.3,68.3 192.8,68.0 193.6,65.9 195.2,64.3 191.2,63.1 185.8,61.5 185.0,60.2 180.3,60.7 175.6,60.4 170.1,59.4 168.5,57.5 168.5,55.1 175.6,54.6 174.8,56.7 177.1,58.3 180.3,54.7 182.6,56.7 186.1,56.1 185.0,56.2 181.8,55.6 185.0,54.6 188.9,54.9 189.2,55.9 186.7,56.1 191.2,57.0 196.0,58.3 201.4,60.2 203.8,62.3 207.7,64.7 212.4,65.9 210.9,68.0 207.7,68.3 203.0,67.2 203.8,68.8 208.5,69.6 206.2,71.7 202.2,70.9 205.4,72.6 206.2,73.6 201.4,72.8 196.7,71.2 192.0,69.6 186.5,69.6ZM164.6,56.5 162.2,57.3 159.1,56.8 159.1,54.7 163.0,54.1 166.9,54.4 167.2,55.6ZM157.5,53.0 159.1,51.7 162.2,51.8 162.5,52.8 159.9,53.3ZM183.4,53.1 175.6,53.5 169.3,53.1 164.6,52.3 164.6,50.2 169.3,50.6 174.0,51.4 183.4,51.5ZM164.6,42.7 170.8,41.1 183.4,39.8 199.1,39.6 211.6,40.6 205.4,43.0 199.1,44.6 191.2,46.2 189.7,47.8 185.0,49.4 181.8,50.6 174.0,50.6 167.7,50.2 174.0,48.6 170.8,47.5 174.0,46.2 172.4,44.1ZM163.0,46.2 158.3,44.6 164.6,42.7 170.8,44.1 172.4,46.2 169.3,47.3Z"/><path id="c_FrenchGuiana" d="M226.5,165.4 227.8,166.7 225.9,169.9 223.3,169.8 224.2,167.8 223.6,166.2 224.2,164.1Z"/><path id="c_Suriname" d="M221.8,164.0 224.2,164.1 223.6,166.2 224.2,167.8 223.3,169.8 221.2,170.3 220.3,170.4 218.7,168.2 217.9,167.0 219.0,165.4 219.2,164.0Z"/><path id="c_Guyana" d="M217.1,162.2 219.2,164.0 219.0,165.4 217.9,167.0 218.7,168.2 220.3,170.4 218.7,170.7 216.5,171.4 215.1,170.6 215.4,169.5 214.9,167.0 214.8,165.4 213.7,165.1 212.6,164.0 213.1,162.7 213.7,161.4 214.9,160.1Z"/><path id="c_Venezuela" d="M196.1,155.8 196.6,157.4 197.2,156.1 198.8,155.0 199.1,153.8 199.9,155.0 201.8,156.1 203.8,156.4 206.9,157.2 209.3,156.2 211.6,156.2 210.9,157.4 213.2,158.2 214.0,159.8 214.9,160.1 213.7,161.4 213.1,162.7 212.6,164.0 213.7,165.1 211.6,166.9 210.1,167.4 208.2,166.9 207.7,168.6 209.4,169.8 208.5,170.4 206.3,172.0 204.0,171.5 202.5,169.0 203.3,168.0 202.5,166.2 203.0,163.5 200.0,163.7 199.1,162.2 196.0,162.2 195.3,159.8 194.4,158.2 195.2,155.8 197.1,154.5Z"/><path id="c_Colombia" d="M196.4,177.3 196.0,177.2 193.3,175.6 190.9,173.6 189.2,172.8 190.6,173.5 190.6,173.5 189.0,172.8 187.3,172.8 185.3,171.2 185.8,169.5 187.3,168.6 187.8,167.0 187.3,164.6 187.5,162.7 186.7,161.9 187.5,159.5 188.4,160.6 189.7,158.5 190.5,156.6 191.6,155.6 194.4,155.0 196.4,153.5 197.1,154.5 195.2,155.8 194.4,158.2 195.3,159.8 196.0,162.2 199.1,162.2 200.0,163.7 203.0,163.5 202.5,166.2 203.3,168.0 202.5,169.0 203.5,170.7 199.4,170.7 199.4,171.7 200.5,172.5 199.1,172.7 199.1,173.8 200.0,175.1 199.2,180.2 198.0,179.6 198.2,179.2Z"/><path id="c_Ecuador" d="M182.1,175.1 183.4,173.5 183.4,172.2 185.3,171.2 187.3,172.8 189.0,172.8 190.9,173.6 190.3,175.9 188.7,177.7 186.5,178.8 185.9,179.9 185.0,181.5 183.4,180.4 182.9,179.0 183.4,177.5 181.8,177.0ZM168.5,174.5 168.9,174.7 168.9,175.2 168.5,175.3 168.1,175.2 168.1,174.7ZM166.0,174.4 166.4,174.5 166.4,175.0 166.0,175.2 165.6,175.0 165.6,174.5ZM167.6,174.2 167.6,174.7 167.2,174.8 166.8,174.7 166.8,174.2 167.2,174.0ZM165.7,173.9 165.7,174.4 165.4,174.5 165.0,174.4 165.0,173.9 165.4,173.7Z"/><path id="c_Peru" d="M190.9,198.1 189.5,196.3 189.2,195.9 188.0,193.0 186.2,189.6 185.0,186.7 183.6,184.4 181.5,183.1 181.4,180.7 182.9,179.0 183.4,180.4 185.0,181.5 185.9,179.9 186.5,178.8 188.7,177.7 190.3,175.9 190.9,173.6 193.3,175.6 196.0,177.2 196.4,177.3 198.2,179.2 198.0,179.6 199.2,180.2 194.7,181.7 194.1,183.3 193.1,185.2 194.4,188.0 195.6,189.6 198.1,188.8 198.1,191.2 199.7,191.1 201.1,193.6 200.7,196.0 200.0,197.6 200.7,199.6 199.9,201.3 199.9,201.7 198.5,203.0 196.7,201.3 193.6,199.7 191.2,198.3ZM190.6,173.5 190.9,173.6 190.6,173.5Z"/><path id="c_Bolivia" d="M199.9,201.3 200.7,199.6 200.0,197.6 200.7,196.0 201.1,193.6 199.7,191.1 202.2,190.7 204.4,189.4 206.5,189.3 206.5,192.0 208.0,193.6 210.4,194.4 213.2,195.2 214.3,197.0 214.5,199.7 217.3,199.7 217.4,201.3 218.7,202.5 218.2,204.1 217.6,205.4 217.6,206.0 216.3,204.6 212.1,205.1 211.2,206.5 210.7,209.2 208.0,210.2 206.6,209.1 204.9,208.6 203.5,210.2 202.4,210.2 201.9,208.1 201.4,205.7 200.7,204.1 199.9,201.7Z"/><path id="c_Chile" d="M203.3,263.5 200.7,263.1 199.1,262.2 203.8,262.1ZM198.3,262.1 196.0,261.1 197.5,260.5 198.6,259.5 198.3,258.5 199.9,258.2 201.3,258.7 201.3,261.9ZM190.7,252.9 190.5,252.4 190.5,249.2 192.8,246.8 194.4,244.4 194.7,241.1 193.8,240.9 193.6,243.4 192.3,243.2 192.5,240.8 193.1,240.8 193.6,237.9 193.6,234.7 194.1,233.1 195.2,230.7 196.4,227.4 196.7,223.4 197.1,221.0 197.5,217.8 198.3,214.6 198.5,211.3 198.9,207.3 198.6,203.1 198.5,203.0 199.9,201.7 200.7,204.1 201.4,205.7 201.9,208.1 202.4,210.2 203.5,210.2 203.8,210.5 201.6,212.9 201.4,215.8 199.9,219.4 199.1,221.8 198.6,225.0 199.1,227.4 198.3,230.7 197.5,233.1 197.5,235.8 196.3,238.7 196.3,242.8 196.6,246.0 196.3,249.2 195.2,252.4 193.9,254.0 195.5,255.6 196.0,257.3 201.6,257.7 199.9,258.1 197.8,258.5 197.1,260.3 193.6,258.9 192.0,255.6 191.4,254.3 190.6,254.0Z"/><path id="c_Paraguay" d="M211.2,206.5 212.1,205.1 216.3,204.6 217.6,206.0 218.1,209.1 221.1,209.4 221.7,210.5 222.0,212.1 223.7,212.1 223.3,214.7 221.2,217.5 220.3,217.8 217.0,217.3 218.5,214.6 216.7,213.4 214.8,212.1 213.2,211.3 210.7,209.2Z"/><path id="c_Uruguay" d="M223.4,229.5 220.7,229.7 217.9,228.3 217.3,228.1 217.6,225.8 217.9,224.2 218.5,222.1 219.8,222.1 221.7,223.3 222.6,223.9 225.0,225.8 225.1,227.8Z"/><path id="c_Argentina" d="M203.0,260.5 206.6,261.4 204.6,262.1 201.3,261.9 201.3,258.7 201.8,258.9ZM219.2,230.7 220.0,232.3 218.5,234.7 216.3,235.8 211.6,236.1 211.2,238.7 206.9,239.5 206.9,241.1 209.0,241.9 206.9,243.2 206.2,246.0 203.0,247.6 205.4,249.2 205.4,250.8 202.7,253.2 200.7,254.8 200.7,256.6 201.6,257.7 196.0,257.3 195.5,255.6 193.9,254.0 195.2,252.4 196.3,249.2 196.6,246.0 196.3,242.8 196.3,238.7 197.5,235.8 197.5,233.1 198.3,230.7 199.1,227.4 198.6,225.0 199.1,221.8 199.9,219.4 201.4,215.8 201.6,212.9 203.8,210.5 203.5,210.2 204.9,208.6 206.6,209.1 208.0,210.2 210.7,209.2 213.2,211.3 214.8,212.1 216.7,213.4 218.5,214.6 217.0,217.3 220.3,217.8 221.2,217.5 223.3,214.7 224.7,215.7 224.5,217.1 222.6,218.3 221.1,219.4 218.5,222.1 217.9,224.2 217.6,225.8 217.3,227.8 217.3,228.1 217.3,229.2Z"/><path id="c_Brazil" d="M213.7,165.1 214.8,165.4 214.9,167.0 215.4,169.5 215.1,170.6 216.5,171.4 218.7,170.7 220.3,170.4 221.2,170.3 223.3,169.8 225.9,169.9 227.8,166.7 228.9,168.6 230.5,170.6 230.5,172.7 230.0,173.7 231.3,173.5 232.5,174.0 232.8,174.0 233.6,174.6 236.7,175.4 239.1,177.5 243.0,178.0 246.2,178.2 248.5,179.4 250.6,181.2 253.5,182.0 254.3,185.1 254.0,188.0 251.7,190.4 250.1,192.5 248.5,194.4 247.7,197.6 247.4,201.7 246.5,204.9 245.7,206.5 244.6,208.9 243.0,210.5 240.7,210.5 238.3,211.5 236.0,212.5 233.6,214.2 232.7,216.2 232.7,218.6 231.3,220.2 229.7,222.6 227.3,225.0 225.1,227.8 225.0,225.8 222.6,223.9 221.7,223.3 219.8,222.1 218.5,222.1 221.1,219.4 222.6,218.3 224.5,217.1 224.7,215.7 223.3,214.7 223.7,212.1 222.0,212.1 221.7,210.5 221.1,209.4 218.1,209.1 217.6,206.0 217.6,205.4 218.2,204.1 218.7,202.5 217.4,201.3 217.3,199.7 214.5,199.7 214.3,197.0 213.2,195.2 210.4,194.4 208.0,193.6 206.5,192.0 206.5,189.3 204.4,189.4 202.2,190.7 199.7,191.1 198.1,191.2 198.1,188.8 195.6,189.6 194.4,188.0 193.1,185.2 194.1,183.3 194.7,181.7 199.2,180.2 200.0,175.1 199.1,173.8 199.1,172.7 200.5,172.5 199.4,171.7 199.4,170.7 203.5,170.7 204.0,171.5 206.3,172.0 208.5,170.4 209.4,169.8 207.7,168.6 208.2,166.9 210.1,167.4 211.6,166.9Z"/><path id="c_Greenland" d="M194.4,47.0 202.2,44.6 206.9,42.7 214.8,41.4 230.5,40.7 238.3,41.4 246.2,39.3 258.7,38.8 269.7,39.4 277.5,41.4 290.1,42.2 282.2,44.6 279.1,47.0 279.9,49.4 277.5,51.8 279.1,53.5 275.2,55.1 274.4,57.5 270.5,58.3 273.6,59.9 269.7,61.5 265.0,63.4 258.7,63.9 255.6,66.3 250.1,67.6 246.2,68.8 244.6,71.2 242.2,74.4 240.4,77.0 238.3,76.5 233.6,75.2 230.5,72.8 228.1,70.4 225.8,67.2 225.0,64.7 228.1,62.3 224.2,61.5 223.4,59.4 222.6,57.5 220.3,54.3 217.1,51.8 211.6,50.7 205.4,51.0 200.7,50.2 197.5,49.1 202.2,48.6 197.5,47.8Z"/><path id="c_Iceland" d="M270.8,67.8 273.6,66.5 276.0,68.0 280.7,66.8 283.8,66.3 286.0,67.2 287.6,68.4 285.7,69.9 280.7,71.3 276.8,71.0 273.3,70.7 274.4,69.7 271.3,68.9 273.6,68.4Z"/><path id="c_UK" d="M302.3,85.9 302.3,86.4 301.9,86.6 301.5,86.4 301.5,85.9 301.9,85.8ZM302.6,90.4 300.8,89.9 302.3,88.9 301.9,87.6 304.2,87.5 303.9,86.5 303.4,85.0 301.4,84.9 300.8,84.1 300.1,82.8 299.8,80.8 301.1,79.1 303.9,79.1 302.6,80.5 305.8,80.7 304.7,82.5 303.9,83.3 305.5,83.3 306.4,84.1 307.0,85.5 308.9,87.0 309.4,88.1 311.6,88.6 310.2,90.5 311.0,91.0 307.4,91.8 303.4,92.4 300.0,92.9 302.2,91.2 304.2,90.7ZM299.5,83.5 299.5,83.9 299.2,84.0 298.8,83.9 298.8,83.5 299.2,83.3ZM299.9,82.3 299.9,82.8 299.5,82.9 299.1,82.8 299.1,82.3 299.5,82.1ZM299.5,80.9 299.5,81.5 299.0,81.7 298.6,81.5 298.6,80.9 299.0,80.7ZM299.2,79.2 297.5,81.7 297.2,80.8 298.3,79.7ZM304.7,78.1 304.7,78.7 304.2,78.9 303.7,78.7 303.7,78.1 304.2,77.9ZM307.4,76.0 307.4,76.7 306.9,76.9 306.3,76.7 306.3,76.0 306.9,75.8Z"/><path id="c_Ireland" d="M293.2,90.4 295.6,90.4 299.0,89.4 299.5,87.6 299.2,86.5 300.3,85.7 299.2,84.6 297.2,84.4 295.6,85.5 293.2,86.2 294.0,87.6 292.8,89.4Z"/><path id="c_Japan" d="M503.8,133.7 504.3,133.9 504.3,134.5 503.8,134.7 503.3,134.5 503.3,133.9ZM510.2,130.5 510.2,131.1 509.8,131.3 509.3,131.1 509.3,130.5 509.8,130.3ZM512.6,127.6 512.6,128.2 512.1,128.4 511.6,128.2 511.6,127.6 512.1,127.4ZM514.9,122.9 514.0,123.5 513.2,123.1 513.2,121.1 512.4,120.3 512.9,119.5 514.3,118.9 515.6,119.3 516.0,120.6ZM520.3,119.0 519.5,119.8 517.6,120.6 516.8,120.3 516.8,119.2 517.6,118.7 519.6,118.2ZM530.9,111.8 530.1,113.1 529.5,115.0 530.0,116.0 528.6,117.1 528.1,116.6 526.7,117.6 523.9,117.7 523.7,118.2 522.0,119.5 520.9,118.2 518.4,118.1 516.0,118.7 514.5,118.7 514.3,118.1 516.8,116.3 519.2,116.1 522.0,116.1 523.4,114.2 524.3,113.1 523.9,114.2 526.2,113.2 527.8,111.5 528.6,109.4 528.6,108.1 529.1,107.1 530.0,106.6 530.9,108.2 531.7,109.8ZM537.2,103.7 534.9,104.4 533.6,105.8 530.9,104.9 529.1,106.6 528.6,104.7 529.4,103.7 530.8,103.7 531.2,101.0 531.6,100.2 533.8,102.0 536.9,102.3Z"/><path id="c_Taiwan" d="M499.6,132.7 500.3,133.2 499.7,134.8 498.6,138.0 497.5,136.7 497.4,135.6 498.5,133.7Z"/><path id="c_SriLanka" d="M434.3,157.9 435.5,159.0 436.3,159.8 437.3,161.4 437.1,163.0 435.4,164.0 434.4,163.5 434.0,160.6Z"/><path id="c_Philippines" d="M506.6,163.3 505.8,164.3 505.0,163.8 503.5,163.0 502.7,161.4 500.3,162.2 500.3,160.9 501.9,159.8 503.5,160.1 504.7,159.0 505.5,157.7 507.1,159.8 507.4,162.2ZM494.8,158.2 492.8,159.8 495.8,156.7ZM503.2,157.9 502.6,157.4 502.4,158.5 501.1,158.2 501.1,156.6 500.3,156.6 500.3,154.5 501.9,155.0 502.7,156.6 502.6,157.3 503.5,155.4 503.6,156.4ZM496.4,156.1 495.8,156.7 496.7,155.3ZM505.0,157.4 504.6,156.9 504.1,155.3 503.9,153.3 505.5,153.3 506.1,155.4ZM498.6,153.7 497.8,151.9 499.4,152.2 499.4,153.7ZM499.6,147.7 499.9,149.3 500.3,150.6 502.4,151.2 503.6,153.2 502.7,152.5 501.1,151.7 498.8,151.4 498.1,150.4 497.2,149.3 496.9,147.2 497.8,145.3 498.0,143.7 500.7,143.7 500.8,146.1Z"/><path id="c_Brunei" d="M489.4,165.4 489.7,165.1 490.0,165.1 490.0,167.0 487.9,167.0 487.9,166.0Z"/><path id="c_Indonesia" d="M496.3,188.5 497.8,188.5 498.5,188.8 498.5,189.6 497.8,189.9 496.3,189.9 495.6,189.6 495.6,188.8ZM491.8,186.7 492.0,186.9 492.0,187.6 491.8,187.8 491.2,187.8 490.9,187.6 490.9,186.9 491.2,186.7ZM495.1,186.5 495.9,186.9 495.9,187.7 495.1,188.0 493.0,188.0 492.2,187.7 492.2,186.9 493.0,186.5ZM490.0,186.5 490.5,186.8 490.5,187.4 490.0,187.7 489.0,187.7 488.6,187.4 488.6,186.8 489.0,186.5ZM482.3,184.6 483.1,183.8 485.7,184.6 488.6,185.9 488.4,187.3 486.2,186.9 483.1,186.7 479.9,185.9 477.6,185.9 475.9,185.4 474.4,184.6 474.0,184.4 475.2,183.0 476.8,183.0 479.2,184.3ZM476.5,176.6 476.5,177.8 475.9,178.3 475.2,178.3 474.9,180.7 474.9,182.8 473.7,182.8 472.9,182.5 471.3,181.4 469.4,179.8 467.4,177.5 466.3,175.1 464.3,172.7 463.8,170.7 461.9,169.5 460.0,167.4 458.4,165.7 458.4,164.5 461.1,164.9 462.7,166.6 464.3,167.7 466.3,169.1 467.9,170.3 469.4,171.9 471.0,172.7 471.6,174.8 472.9,176.4 473.7,177.2 474.0,177.4 474.0,176.6 474.5,176.1 475.9,176.1ZM493.3,174.3 492.2,175.6 491.4,177.5 490.9,179.4 488.7,180.1 487.0,178.8 484.6,179.0 482.0,178.2 481.5,175.9 480.3,174.0 479.9,171.9 480.9,170.3 482.3,172.0 484.6,171.2 487.5,171.2 489.0,170.3 489.8,168.6 490.3,166.6 493.4,166.7 493.7,167.8 494.1,169.8 495.6,171.9 493.7,172.2ZM504.3,189.9 502.7,190.1 503.5,188.5 505.2,187.8 505.0,188.9ZM500.8,186.5 501.9,186.8 501.9,187.5 500.8,187.8 498.1,187.8 497.0,187.5 497.0,186.8 498.1,186.5ZM522.3,177.2 525.1,175.9 527.0,176.7 530.1,177.7 530.1,184.0 530.0,184.8 530.1,185.6 530.1,188.1 527.8,186.5 525.4,187.0 525.0,185.2 526.7,184.8 525.4,182.3 522.3,180.9 520.0,179.9 517.6,179.9 517.3,178.3 516.0,178.0 518.4,177.2 516.0,176.7 514.5,175.7 514.5,174.8 516.8,174.1 519.2,174.8 519.5,177.5 520.7,178.8ZM508.1,178.5 508.5,178.7 508.5,179.4 508.1,179.6 507.0,179.6 506.6,179.4 506.6,178.7 507.0,178.5ZM513.2,178.0 514.1,178.2 514.1,178.9 513.2,179.1 510.7,179.1 509.8,178.9 509.8,178.2 510.7,178.0ZM501.9,172.8 498.8,172.8 497.4,174.0 497.5,174.9 499.6,174.9 502.4,174.8 500.3,176.2 499.6,176.7 500.8,178.8 501.9,179.9 501.1,182.0 499.9,181.2 498.8,179.6 498.6,177.8 497.7,179.1 497.8,182.3 496.4,182.3 496.4,179.1 495.3,178.0 496.1,175.9 496.9,173.8 496.9,172.4 498.5,171.4 501.9,172.0 505.0,170.7 504.3,172.8ZM509.3,173.5 509.1,171.9 509.0,170.3 510.1,169.9 511.0,172.7 510.1,174.8Z"/><path id="c_Timor" d="M505.2,187.8 508.7,187.0 507.4,188.0 505.0,188.9Z"/><path id="c_PapuaNewGuinea" d="M537.7,181.5 539.6,183.1 540.8,184.4 539.6,184.4 541.1,186.4 542.7,188.0 545.1,190.1 544.3,190.6 541.1,189.8 539.6,188.8 538.0,186.7 535.6,185.7 534.1,186.9 533.3,188.3 530.1,188.1 530.1,185.6 530.0,184.8 530.1,184.0 530.1,177.7 533.3,179.0 535.6,179.6ZM552.9,184.6 551.5,183.1 551.6,182.3 553.5,184.0ZM546.6,180.2 547.9,180.4 547.4,182.0 545.1,183.5 542.7,183.5 541.9,182.5 544.3,182.2ZM549.0,181.1 548.3,180.2 546.6,178.6 545.5,177.7 547.4,178.8Z"/><path id="c_SolomonIslands" d="M562.8,189.6 563.6,189.9 563.6,190.9 562.8,191.2 562.0,190.9 562.0,189.9ZM560.0,188.1 560.7,188.5 560.7,187.5 561.5,187.2 562.3,187.5 562.3,188.5 561.5,188.8 560.7,188.5 560.7,189.4 560.0,189.8 559.2,189.4 559.2,188.5ZM558.4,185.9 558.4,186.9 557.6,187.2 556.8,186.9 556.8,185.9 557.6,185.6ZM556.0,184.8 556.0,185.7 555.3,186.0 554.5,185.7 554.5,184.8 555.3,184.4Z"/><path id="c_Vanuatu" d="M574.6,204.3 575.1,204.6 575.1,205.2 574.6,205.5 574.0,205.2 574.0,204.6ZM573.1,201.4 573.7,201.7 573.7,202.3 573.1,202.6 572.6,202.3 572.6,201.7ZM571.7,199.2 572.3,199.4 572.3,200.1 571.7,200.3 571.2,200.1 571.2,199.4ZM570.9,197.6 571.5,197.8 571.5,198.5 570.9,198.7 570.4,198.5 570.4,197.8Z"/><path id="c_NewCaledonia" d="M566.2,206.0 568.6,207.1 570.9,209.2 570.2,209.6 567.8,208.3 566.2,206.7Z"/><path id="c_Fiji" d="M587.3,201.7 588.0,201.3 588.8,201.7 588.8,202.6 588.0,203.0 587.3,202.6ZM589.5,199.7 590.2,199.4 591.0,199.7 591.0,200.7 590.2,201.0 589.5,200.7Z"/><path id="c_Australia" d="M538.8,239.7 541.6,239.4 541.6,241.5 540.8,243.1 539.2,243.7 537.7,243.1 536.7,241.5 536.0,239.0ZM534.1,193.6 534.5,196.5 536.9,197.5 537.2,200.1 538.0,203.3 539.2,204.4 541.9,206.0 543.5,208.9 545.5,210.5 547.4,213.3 549.3,214.6 549.3,217.8 549.9,219.7 549.0,223.4 547.4,226.3 546.2,228.1 544.6,231.5 544.3,233.9 541.1,234.5 538.8,236.3 536.4,235.2 534.1,236.0 530.1,234.9 528.3,233.1 527.8,231.2 526.2,230.7 526.2,229.4 525.4,226.6 525.1,226.0 523.9,227.9 522.3,229.5 521.5,229.4 520.0,226.6 518.4,225.2 514.5,224.2 511.3,224.4 506.6,225.5 503.5,226.6 502.7,228.1 497.2,228.1 494.1,229.9 490.9,229.7 489.5,228.7 490.3,226.6 490.5,225.0 489.4,221.8 488.1,217.8 487.0,215.4 487.0,212.1 487.5,208.9 490.1,207.3 492.5,206.7 495.6,205.7 498.8,204.9 500.7,202.5 501.6,200.1 503.5,199.7 505.0,197.6 507.4,196.0 509.8,197.3 512.1,197.5 512.6,195.2 514.1,193.5 516.8,192.2 518.4,192.5 521.5,192.8 523.6,193.1 522.3,195.2 521.5,197.6 523.9,198.9 527.0,200.9 529.4,201.8 530.9,198.5 531.2,195.2 531.4,192.8 532.5,190.7Z"/><path id="c_NewZealand" d="M581.6,239.5 582.4,240.7 580.4,242.8 580.0,244.0 577.5,245.2 576.7,247.4 574.9,248.6 573.0,248.6 570.5,247.9 570.2,246.8 572.5,244.4 575.6,242.8 577.7,241.1 578.8,239.5 579.9,238.7ZM581.9,230.3 583.2,232.8 584.8,232.3 585.1,234.1 587.4,234.4 589.0,234.2 588.2,236.3 586.6,237.1 586.3,238.7 584.0,240.5 583.2,240.0 583.8,238.2 581.9,237.1 581.6,236.8 583.0,235.5 583.0,233.9 582.2,232.3 580.4,229.9 579.9,228.9Z"/><path id="c_Madagascar" d="M386.3,192.8 387.8,198.5 386.6,201.7 385.5,205.7 383.8,210.5 382.7,213.8 379.8,214.7 377.5,212.1 376.9,208.9 378.6,205.7 378.0,202.5 378.7,199.6 381.6,198.8 383.9,196.8 385.3,194.4Z"/><path id="c_Cuba" d="M175.7,138.2 178.7,136.4 181.0,136.3 183.4,136.6 186.5,137.6 189.7,139.3 192.5,140.8 190.5,141.4 187.0,141.4 187.8,140.3 185.8,139.6 182.6,138.4 180.3,137.4 177.9,137.7Z"/><path id="c_Haiti" d="M196.4,141.6 196.4,142.9 196.0,143.5 196.4,144.5 196.4,144.6 196.0,144.2 192.2,143.8 195.2,143.5 195.5,143.4 194.7,142.4 193.8,141.4Z"/><path id="c_DominicanRepublic" d="M196.4,141.6 199.2,141.7 201.6,143.4 199.9,143.8 196.9,145.1 196.4,144.6 196.4,144.5 196.0,143.5 196.4,142.9 196.4,141.6Z"/><path id="c_Jamaica" d="M186.1,143.8 189.2,144.2 189.2,144.6 187.3,144.8 186.1,144.2Z"/><path id="c_PuertoRico" d="M203.5,143.7 206.0,143.8 205.7,144.5 203.5,144.5Z"/><path id="c_Bahamas" d="M194.1,139.4 194.1,139.9 193.6,140.1 193.1,139.9 193.1,139.4 193.6,139.2ZM194.8,137.2 194.8,137.6 194.4,137.8 194.0,137.6 194.0,137.2 194.4,137.0ZM191.8,135.9 191.8,136.3 191.4,136.5 191.0,136.3 191.0,135.9 191.4,135.7ZM190.9,134.3 190.9,134.7 190.5,134.9 190.1,134.7 190.1,134.3 190.5,134.1ZM187.3,133.5 187.3,134.5 186.5,134.8 185.8,134.5 185.8,133.5 186.5,133.2ZM189.8,133.1 189.8,133.7 189.4,133.8 188.9,133.7 188.9,133.1 189.4,132.9ZM187.9,132.9 187.9,133.4 187.5,133.5 187.1,133.4 187.1,132.9 187.5,132.7ZM188.3,131.1 187.8,131.4 187.2,131.1 187.2,130.4 187.8,130.2 188.3,130.4ZM186.5,131.0 185.9,131.2 185.4,131.0 185.4,130.3 185.9,130.1 186.5,130.3Z"/><path id="c_TrinidadandTobago" d="M211.8,156.2 213.4,156.1 213.2,157.2 211.8,157.2Z"/><path id="c_Antilles" d="M201.0,153.6 201.0,154.0 200.7,154.1 200.3,154.0 200.3,153.6 200.7,153.5ZM202.1,154.0 201.8,154.1 201.4,154.0 201.4,153.6 201.8,153.5 202.1,153.6ZM199.4,153.5 199.1,153.7 198.8,153.5 198.8,153.1 199.1,153.0 199.4,153.1ZM212.3,146.1 212.0,146.3 211.6,146.1 211.6,145.7 212.0,145.6 212.3,145.7ZM210.9,145.8 210.5,146.0 210.2,145.8 210.2,145.4 210.5,145.3 210.9,145.4ZM210.4,144.5 210.1,144.7 209.7,144.5 209.7,144.1 210.1,144.0 210.4,144.1ZM207.8,144.2 207.4,144.4 207.1,144.2 207.1,143.8 207.4,143.6 207.8,143.8ZM212.5,153.8 212.5,154.2 212.1,154.3 211.8,154.2 211.8,153.8 212.1,153.6ZM215.8,152.5 215.5,152.6 215.1,152.5 215.1,152.1 215.5,151.9 215.8,152.1ZM213.2,152.4 212.9,152.6 212.6,152.4 212.6,152.0 212.9,151.9 213.2,152.0ZM213.6,151.3 213.2,151.4 212.9,151.3 212.9,150.9 213.2,150.7 213.6,150.9ZM213.6,150.2 213.2,150.3 212.9,150.2 212.9,149.7 213.2,149.6 213.6,149.7ZM213.1,148.9 212.7,149.0 212.4,148.9 212.4,148.5 212.7,148.3 213.1,148.5ZM212.8,147.6 212.4,147.7 212.1,147.6 212.1,147.2 212.4,147.0 212.8,147.2Z"/><path id="c_Cyprus" d="M359.6,117.1 360.7,116.5 363.2,116.0 362.3,117.1 360.7,117.7 359.8,117.4Z"/><path id="c_Faroe" d="M297.5,74.0 298.1,74.2 298.7,74.0 298.7,73.2 298.1,73.0 297.5,73.2Z"/><path id="c_CapeVerde" d="M270.6,149.1 271.0,149.3 271.0,149.7 270.6,149.8 270.3,149.7 270.3,149.3ZM271.9,149.0 272.2,149.1 272.2,149.5 271.9,149.7 271.5,149.5 271.5,149.1ZM273.0,147.0 273.3,147.2 273.3,147.6 273.0,147.7 272.6,147.6 272.6,147.2ZM271.6,146.5 271.6,146.9 271.3,147.1 270.9,146.9 270.9,146.5 271.3,146.4ZM270.0,145.9 270.0,146.3 269.7,146.4 269.3,146.3 269.3,145.9 269.7,145.7Z"/><path id="c_SaoTome" d="M319.0,173.3 319.3,173.4 319.6,173.3 319.6,172.9 319.3,172.8 319.0,172.9Z"/><path id="c_Comoros" d="M379.5,193.9 379.8,193.8 380.2,193.9 380.2,194.3 379.8,194.4 379.5,194.3ZM378.6,192.8 378.9,192.9 378.9,193.3 378.6,193.5 378.3,193.3 378.3,192.9ZM376.9,192.0 377.2,192.1 377.2,192.5 376.9,192.7 376.5,192.5 376.5,192.1Z"/><path id="c_Mauritius" d="M398.7,206.5 399.2,206.7 399.7,206.5 399.7,205.9 399.2,205.7 398.7,205.9Z"/><path id="c_Reunion" d="M395.5,207.8 396.0,208.0 396.5,207.8 396.5,207.2 396.0,207.0 395.5,207.2Z"/><path id="c_Seychelles" d="M395.7,181.2 396.0,181.4 396.3,181.2 396.3,180.9 396.0,180.7 395.7,180.9Z"/><path id="c_Falkland" d="M217.9,256.3 218.4,256.8 217.1,257.4 215.7,257.7 216.0,256.3ZM214.8,256.1 215.9,256.4 215.1,257.6 213.5,257.6 212.9,256.9Z"/><path id="c_SouthGeorgia" d="M249.3,260.5 251.7,260.8 252.7,261.8 251.7,261.6Z"/><path id="c_Kerguelen" d="M417.3,253.5 418.9,253.5 419.5,253.2 419.5,252.3 418.9,251.9 417.3,251.9 416.7,252.3 416.7,253.2Z"/><path id="c_Heard" d="M423.8,259.3 424.2,259.4 424.6,259.3 424.6,258.8 424.2,258.6 423.8,258.8Z"/><path id="c_Hawaii" d="M64.9,140.9 66.0,141.3 66.0,142.5 64.9,143.0 63.9,142.5 63.9,141.3ZM63.7,139.5 64.2,139.7 64.2,140.3 63.7,140.5 63.2,140.3 63.2,139.7ZM62.6,139.2 62.9,139.3 62.9,139.7 62.6,139.8 62.3,139.7 62.3,139.3ZM61.5,138.6 61.5,139.1 61.0,139.3 60.6,139.1 60.6,138.6 61.0,138.4ZM59.1,137.7 59.1,138.2 58.7,138.4 58.3,138.2 58.3,137.7 58.7,137.6Z"/><path id="c_misc" d="M166.5,284.5 166.5,284.1 166.8,284.0 167.1,284.1 167.1,284.5 166.8,284.6ZM213.5,274.5 214.0,274.3 214.5,274.5 214.5,275.1 214.0,275.3 213.5,275.1ZM215.6,273.2 216.3,272.9 217.1,273.2 217.1,274.2 216.3,274.5 215.6,274.2ZM221.8,272.2 221.8,271.6 222.3,271.4 222.8,271.6 222.8,272.2 222.3,272.4ZM237.1,270.8 237.5,270.6 238.0,270.8 238.0,271.4 237.5,271.6 237.1,271.4ZM267.1,267.4 267.3,267.3 267.6,267.4 267.6,267.7 267.3,267.8 267.1,267.7ZM31.6,244.4 31.6,244.0 32.0,243.8 32.4,244.0 32.4,244.4 32.0,244.6ZM137.0,217.0 137.3,216.9 137.5,217.0 137.5,217.3 137.3,217.4 137.0,217.3ZM95.3,208.0 95.5,207.9 95.7,208.0 95.7,208.2 95.5,208.3 95.3,208.2ZM58.0,207.5 58.2,207.4 58.4,207.5 58.4,207.8 58.2,207.9 58.0,207.8ZM33.7,207.4 34.0,207.3 34.4,207.4 34.4,207.8 34.0,208.0 33.7,207.8ZM42.1,204.0 42.3,203.9 42.6,204.0 42.6,204.3 42.3,204.4 42.1,204.3ZM35.7,203.5 35.9,203.4 36.1,203.5 36.1,203.8 35.9,203.8 35.7,203.8ZM73.9,202.1 73.9,201.5 74.4,201.3 74.8,201.5 74.8,202.1 74.4,202.3ZM84.3,200.7 84.6,200.6 84.8,200.7 84.8,201.0 84.6,201.1 84.3,201.0ZM70.9,200.2 71.2,200.1 71.5,200.2 71.5,200.6 71.2,200.7 70.9,200.6ZM81.2,199.1 81.2,198.8 81.4,198.7 81.7,198.8 81.7,199.1 81.4,199.2ZM29.3,196.4 29.5,196.3 29.7,196.4 29.7,196.6 29.5,196.7 29.3,196.6ZM40.9,196.4 41.1,196.3 41.3,196.4 41.3,196.7 41.1,196.8 40.9,196.7ZM39.2,196.2 39.2,195.8 39.5,195.7 39.9,195.8 39.9,196.2 39.5,196.4ZM38.1,195.3 38.6,195.1 39.1,195.3 39.1,195.8 38.6,196.0 38.1,195.8ZM32.3,194.8 32.5,194.7 32.7,194.8 32.7,195.0 32.5,195.1 32.3,195.0ZM90.5,189.1 90.8,189.0 91.1,189.1 91.1,189.4 90.8,189.6 90.5,189.4ZM88.9,187.8 89.3,187.7 89.6,187.8 89.6,188.2 89.3,188.3 88.9,188.2ZM286.2,186.2 286.4,186.1 286.6,186.2 286.6,186.4 286.4,186.5 286.2,186.4ZM61.6,170.2 62.0,170.1 62.3,170.2 62.3,170.6 62.0,170.7 61.6,170.6ZM207.1,121.6 207.1,121.3 207.3,121.3 207.5,121.3 207.5,121.6 207.3,121.6ZM314.1,261.0 314.3,260.9 314.4,261.0 314.4,261.2 314.3,261.3 314.1,261.2ZM368.0,248.9 368.2,248.8 368.5,248.9 368.5,249.2 368.2,249.3 368.0,249.2ZM389.7,248.4 389.7,248.0 390.0,247.9 390.4,248.0 390.4,248.4 390.0,248.6ZM293.2,238.3 293.4,238.2 293.5,238.3 293.5,238.5 293.4,238.6 293.2,238.5ZM430.4,234.3 430.5,234.2 430.7,234.3 430.7,234.5 430.5,234.5 430.4,234.5ZM289.4,233.4 289.4,233.1 289.6,233.1 289.8,233.1 289.8,233.4 289.6,233.4ZM299.8,199.1 300.0,199.0 300.2,199.1 300.2,199.3 300.0,199.4 299.8,199.3ZM460.7,193.0 460.9,192.9 461.0,193.0 461.0,193.1 460.9,193.2 460.7,193.1ZM474.5,190.2 474.7,190.2 474.8,190.2 474.8,190.4 474.7,190.5 474.5,190.4ZM422.4,185.1 422.5,185.1 422.7,185.1 422.7,185.3 422.5,185.4 422.4,185.3ZM469.2,182.0 469.4,181.9 469.7,182.0 469.7,182.3 469.4,182.4 469.2,182.3ZM477.7,177.8 478.4,177.5 479.0,177.8 479.0,178.5 478.4,178.8 477.7,178.5ZM465.7,178.3 465.7,177.7 466.1,177.5 466.6,177.7 466.6,178.3 466.1,178.5ZM463.2,175.3 463.9,175.0 464.6,175.3 464.6,176.2 463.9,176.5 463.2,176.2ZM423.5,174.3 423.6,174.3 423.8,174.3 423.8,174.5 423.6,174.6 423.5,174.5ZM461.0,171.3 461.6,171.1 462.2,171.3 462.2,172.1 461.6,172.4 461.0,172.1ZM459.1,169.0 459.5,168.8 460.0,169.0 460.0,169.6 459.5,169.8 459.1,169.6ZM475.3,168.3 475.5,168.2 475.8,168.3 475.8,168.6 475.5,168.7 475.3,168.6ZM478.3,167.0 478.7,166.8 479.1,167.0 479.1,167.4 478.7,167.6 478.3,167.4ZM424.1,166.8 424.1,166.6 424.2,166.5 424.4,166.6 424.4,166.8 424.2,166.9ZM497.0,165.0 497.2,164.9 497.4,165.0 497.4,165.2 497.2,165.3 497.0,165.2ZM455.6,161.9 456.1,161.7 456.6,161.9 456.6,162.5 456.1,162.7 455.6,162.5ZM454.4,158.5 454.7,158.4 454.9,158.5 454.9,158.8 454.7,158.9 454.4,158.8ZM454.4,155.5 454.8,155.3 455.3,155.5 455.3,156.0 454.8,156.2 454.4,156.0ZM497.4,153.8 497.7,154.0 497.7,154.3 497.4,154.4 497.4,154.6 497.0,154.7 496.7,154.6 496.7,154.1 497.0,153.9 497.1,153.9ZM453.8,153.8 453.8,152.9 454.5,152.6 455.2,152.9 455.2,153.8 454.5,154.1ZM523.2,230.6 524.2,230.2 525.1,230.6 525.1,231.7 524.2,232.1 523.2,231.7ZM527.4,200.0 527.8,199.8 528.2,200.0 528.2,200.5 527.8,200.6 527.4,200.5ZM522.6,196.4 522.6,195.6 523.2,195.4 523.9,195.6 523.9,196.4 523.2,196.7ZM513.2,191.5 514.0,191.2 514.8,191.5 514.8,192.5 514.0,192.8 513.2,192.5ZM501.5,190.5 501.9,190.3 502.3,190.5 502.3,191.0 501.9,191.1 501.5,191.0ZM503.8,187.1 503.8,186.6 504.3,186.4 504.7,186.6 504.7,187.1 504.3,187.3ZM506.9,185.8 507.4,185.6 507.9,185.8 507.9,186.3 507.4,186.5 506.9,186.3ZM514.5,185.4 515.2,185.1 516.0,185.4 516.0,186.4 515.2,186.7 514.5,186.4ZM519.0,182.9 520.0,182.5 520.9,182.9 520.9,184.0 520.0,184.4 519.0,184.0ZM501.0,181.1 501.6,180.9 502.2,181.1 502.2,181.9 501.6,182.2 501.0,181.9ZM506.0,176.3 506.5,176.1 506.9,176.3 506.9,176.8 506.5,177.0 506.0,176.8ZM512.3,176.2 512.9,175.9 513.5,176.2 513.5,176.9 512.9,177.2 512.3,176.9ZM503.9,176.6 503.9,176.1 504.3,176.0 504.7,176.1 504.7,176.6 504.3,176.8ZM501.4,175.8 501.9,175.6 502.4,175.8 502.4,176.3 501.9,176.5 501.4,176.3ZM508.4,175.7 508.8,175.5 509.2,175.7 509.2,176.1 508.8,176.3 508.4,176.1ZM508.7,174.6 508.7,174.3 509.0,174.2 509.2,174.3 509.2,174.6 509.0,174.7ZM513.5,173.4 514.1,173.2 514.8,173.4 514.8,174.2 514.1,174.4 513.5,174.2ZM505.6,167.5 505.8,167.4 506.1,167.5 506.1,167.8 505.8,167.9 505.6,167.8ZM507.6,166.9 507.6,166.5 507.9,166.4 508.2,166.5 508.2,166.9 507.9,167.0ZM498.3,163.5 498.8,163.3 499.2,163.5 499.2,164.1 498.8,164.3 498.3,164.1ZM500.0,162.7 500.3,162.5 500.7,162.7 500.7,163.0 500.3,163.2 500.0,163.0ZM519.6,161.2 520.0,161.0 520.3,161.2 520.3,161.6 520.0,161.8 519.6,161.6ZM525.4,158.1 525.6,158.0 525.8,158.1 525.8,158.3 525.6,158.4 525.4,158.3ZM502.7,153.6 503.0,153.5 503.3,153.6 503.3,154.0 503.0,154.1 502.7,154.0ZM500.7,153.3 501.1,153.1 501.5,153.3 501.5,153.7 501.1,153.9 500.7,153.7ZM503.2,151.4 503.2,151.1 503.5,151.0 503.7,151.1 503.7,151.4 503.5,151.5ZM500.0,140.5 500.2,140.5 500.3,140.5 500.3,140.7 500.2,140.8 500.0,140.7ZM557.9,261.2 558.2,261.1 558.5,261.2 558.5,261.6 558.2,261.8 557.9,261.6ZM574.2,258.2 574.2,257.9 574.4,257.8 574.6,257.9 574.6,258.2 574.4,258.3ZM569.0,254.9 569.4,254.8 569.8,254.9 569.8,255.4 569.4,255.6 569.0,255.4ZM571.8,248.8 572.4,248.6 572.9,248.8 572.9,249.5 572.4,249.7 571.8,249.5ZM540.7,238.3 540.7,237.6 541.3,237.4 541.8,237.6 541.8,238.3 541.3,238.5ZM534.2,237.5 534.7,237.3 535.2,237.5 535.2,238.0 534.7,238.2 534.2,238.0ZM583.9,231.7 584.1,231.6 584.4,231.7 584.4,231.9 584.1,232.0 583.9,231.9ZM558.4,224.1 558.5,224.1 558.7,224.1 558.7,224.3 558.5,224.4 558.4,224.3ZM572.4,220.1 572.5,220.0 572.7,220.1 572.7,220.3 572.5,220.4 572.4,220.3ZM548.8,213.8 549.3,213.6 549.8,213.8 549.8,214.4 549.3,214.6 548.8,214.4ZM549.3,191.7 549.8,191.5 550.2,191.7 550.2,192.3 549.8,192.5 549.3,192.3ZM545.5,189.8 545.5,189.4 545.8,189.3 546.2,189.4 546.2,189.8 545.8,189.9ZM544.3,188.5 544.7,188.3 545.2,188.5 545.2,189.1 544.7,189.3 544.3,189.1ZM548.4,188.0 548.7,187.9 548.9,188.0 548.9,188.3 548.7,188.4 548.4,188.3ZM589.9,187.1 590.1,187.0 590.2,187.1 590.2,187.3 590.1,187.3 589.9,187.3ZM538.9,176.5 539.6,176.2 540.2,176.5 540.2,177.2 539.6,177.5 538.9,177.2ZM570.6,174.2 570.8,174.1 571.0,174.2 571.0,174.4 570.8,174.5 570.6,174.4ZM580.2,171.1 580.4,171.0 580.5,171.1 580.5,171.3 580.4,171.4 580.2,171.3ZM564.5,165.1 564.5,164.8 564.7,164.7 564.9,164.8 564.9,165.1 564.7,165.1ZM556.8,162.2 557.1,162.0 557.4,162.2 557.4,162.6 557.1,162.7 556.8,162.6ZM577.3,161.9 577.5,161.8 577.7,161.9 577.7,162.2 577.5,162.2 577.3,162.2ZM546.9,161.4 547.1,161.3 547.3,161.4 547.3,161.7 547.1,161.8 546.9,161.7ZM571.9,159.4 572.0,159.3 572.2,159.4 572.2,159.6 572.0,159.6 571.9,159.6ZM535.7,151.6 536.1,151.4 536.5,151.6 536.5,152.1 536.1,152.2 535.7,152.1ZM537.3,148.8 537.5,148.8 537.8,148.8 537.8,149.1 537.5,149.2 537.3,149.1Z"/><path id="ant" d="M26.5,310.7 32.8,309.3 35.4,308.5 42.2,309.4 50.0,310.4 60.2,310.7 61.0,308.8 57.1,307.5 53.2,306.5 56.3,305.6 51.6,304.0 54.7,302.8 58.7,303.3 57.9,301.6 61.8,300.7 61.0,299.5 65.7,299.8 67.3,298.5 72.9,298.3 78.3,296.9 83.3,296.2 89.3,295.1 95.8,294.8 103.4,293.7 108.4,293.8 114.4,293.5 121.0,294.5 128.5,293.7 133.3,295.3 137.6,294.8 142.6,294.6 145.9,292.7 149.0,290.6 152.8,289.5 156.3,290.0 158.5,292.4 163.0,291.1 166.8,291.7 172.4,291.4 177.1,292.7 183.4,293.3 186.5,291.9 188.6,291.2 190.8,288.5 193.9,289.6 196.0,287.1 198.0,285.4 201.0,284.6 203.2,283.3 203.0,281.7 206.3,280.9 207.7,279.3 210.5,279.2 211.6,277.6 214.8,276.7 217.1,275.6 219.5,275.5 219.8,276.3 217.9,277.2 217.1,278.5 214.0,278.8 212.4,280.6 210.9,281.4 207.7,283.0 210.1,284.3 212.6,285.4 211.6,287.9 214.8,290.6 213.2,292.7 213.7,294.8 210.1,296.7 208.5,299.0 200.0,301.7 194.4,301.1 187.6,301.1 179.3,300.6 183.4,302.2 189.7,303.6 198.0,305.3 203.8,306.9 208.5,308.3 213.2,309.4 216.8,310.4 221.1,309.9 225.1,309.0 233.6,308.6 241.5,307.7 246.2,306.1 250.2,304.6 253.2,302.2 261.9,303.3 272.0,303.6 263.4,302.7 256.4,300.7 255.6,298.8 261.9,297.2 268.1,295.9 275.2,294.8 279.3,292.7 285.4,291.1 291.8,289.6 296.4,288.7 300.0,288.5 304.4,289.0 308.9,288.2 313.6,287.4 320.8,287.9 326.2,287.2 330.9,287.5 335.6,287.1 341.7,288.2 346.6,287.5 352.1,288.2 356.0,286.7 360.4,285.9 363.8,286.2 368.9,287.1 372.9,284.5 378.0,283.5 383.4,282.4 388.9,281.1 393.8,280.6 398.0,281.3 404.2,282.9 409.3,282.7 414.7,283.3 418.8,284.5 418.4,289.6 414.2,292.0 416.4,290.4 419.8,288.5 421.9,287.1 425.0,286.4 429.7,285.1 433.3,283.8 438.4,282.9 443.9,282.4 449.3,281.7 454.2,281.3 460.3,280.9 466.8,280.6 473.0,280.3 477.6,281.1 481.4,281.3 487.6,282.9 493.9,282.4 498.8,281.9 504.3,282.4 508.5,281.3 513.7,280.8 518.9,280.9 523.9,280.9 529.4,281.3 535.5,282.9 541.8,284.0 545.8,284.6 550.1,285.0 555.3,285.9 560.6,287.1 564.7,287.7 568.9,288.2 573.3,288.7 577.2,289.6 575.2,291.7 569.4,293.5 564.7,294.8 567.8,295.3 570.9,296.2 569.4,297.8 575.2,299.0 569.4,300.1 565.8,301.1 561.5,302.7 559.5,304.1 561.5,305.9 562.6,307.4 567.8,308.5 573.1,309.4 581.9,310.1 591.3,310.7ZM225.0,301.7 230.5,300.4 236.0,300.3 240.7,301.7 241.8,304.0 238.3,306.4 232.0,307.2 226.5,305.9 224.2,304.0ZM190.5,287.5 196.0,285.0 199.9,285.4 200.7,288.7 196.0,290.3 191.2,289.5ZM148.9,289.3 155.2,289.0 158.3,289.6 155.2,290.3 149.7,290.1ZM50.0,301.1 56.3,300.1 57.9,301.2 53.2,302.2ZM70.4,297.8 76.7,296.6 79.1,297.2 73.6,298.3ZM214.0,274.7 217.1,273.4 218.7,273.7 215.6,275.0ZM210.9,275.0 213.2,274.2 214.0,274.7 211.6,275.5ZM207.7,277.9 210.9,276.6 211.3,277.4 208.5,278.5ZM201.4,282.7 203.0,281.3 204.1,281.9 202.2,283.0ZM221.1,272.4 223.4,271.8 224.2,272.2 221.8,272.7Z"/><path id="heavy" d="M325.4,46.4 327.0,44.9 334.0,44.6 337.2,45.4 341.9,46.7 338.7,47.8 335.6,49.9 332.5,49.1 330.1,47.8ZM337.9,44.3 343.4,43.8 351.3,44.4 346.6,45.7 340.3,45.4ZM341.9,47.3 345.8,47.5 346.6,48.6 342.7,48.8ZM381.9,44.2 385.8,44.2 387.4,44.0 387.4,43.3 385.8,43.1 381.9,43.1 380.3,43.3 380.3,44.0ZM389.5,44.8 393.0,44.8 394.4,44.5 394.4,43.8 393.0,43.5 389.5,43.5 388.2,43.8 388.2,44.5ZM396.6,43.8 400.1,43.8 401.5,43.5 401.5,42.8 400.1,42.5 396.6,42.5 395.2,42.8 395.2,43.5ZM403.5,44.1 406.6,44.1 407.8,43.8 407.8,43.1 406.6,42.8 403.5,42.8 402.3,43.1 402.3,43.8ZM408.6,43.1 410.8,43.1 411.7,42.9 411.7,42.4 410.8,42.2 408.6,42.2 407.8,42.4 407.8,42.9ZM385.1,44.9 387.3,44.9 388.2,44.8 388.2,44.4 387.3,44.3 385.1,44.3 384.2,44.4 384.2,44.8ZM396.3,42.2 398.9,42.2 399.9,42.0 399.9,41.7 398.9,41.5 396.3,41.5 395.2,41.7 395.2,42.0ZM400.6,44.8 402.4,44.8 403.1,44.6 403.1,44.3 402.4,44.1 400.6,44.1 399.9,44.3 399.9,44.6ZM458.0,46.2 461.1,44.3 465.8,44.6 466.6,45.7 464.3,46.7ZM465.0,47.5 470.5,46.0 473.7,47.2 469.0,48.1ZM454.8,43.5 458.8,42.7 462.7,43.5 458.0,44.3ZM206.2,73.6 201.4,72.8 196.7,71.2 192.0,69.6 186.5,69.6 187.3,68.3 192.8,68.0 193.6,65.9 195.2,64.3 191.2,63.1 185.8,61.5 185.0,60.2 180.3,60.7 175.6,60.4 170.1,59.4 168.5,57.5 168.5,55.1 175.6,54.6 174.8,56.7 177.1,58.3 180.3,54.7 182.6,56.7 186.5,56.0 191.2,57.0 196.0,58.3 201.4,60.2 203.8,62.3 207.7,64.7 212.4,65.9 210.9,68.0 207.7,68.3 203.0,67.2 203.8,68.8 208.5,69.6 206.2,71.7 202.2,70.9 205.4,72.6ZM150.5,61.4 147.3,62.6 142.6,62.5 138.7,63.0 131.6,63.1 127.7,62.3 125.0,60.9 126.9,60.4 132.4,60.1 124.6,59.7 123.3,58.5 126.9,58.3 123.0,56.8 124.6,55.9 129.3,55.2 131.6,56.2 136.3,55.9 139.5,55.4 142.6,54.9 144.2,56.0 139.8,57.2 144.2,58.3 145.0,59.4 148.9,60.2ZM115.9,58.9 112.0,57.6 111.4,56.0 113.1,54.4 114.7,53.6 119.1,53.5 123.0,53.9 126.9,54.6 124.6,55.6 122.2,57.2 119.9,58.3 118.3,58.6ZM148.9,57.5 151.2,58.3 154.4,58.5 157.0,57.2 156.7,55.6 154.4,54.4 151.2,54.6 148.9,55.9ZM159.1,56.8 162.2,57.3 164.6,56.5 167.2,55.6 166.9,54.4 163.0,54.1 159.1,54.7ZM152.8,62.3 155.2,63.0 158.3,62.8 159.1,61.8 157.5,61.0 154.4,61.2ZM172.4,68.3 175.6,67.5 177.9,68.0 181.8,70.1 182.6,71.0 179.5,70.9 174.8,71.7 172.4,70.7 174.0,69.6ZM164.6,52.3 164.6,50.2 169.3,50.6 174.0,51.4 183.4,51.5 183.4,53.1 175.6,53.5 169.3,53.1ZM167.7,50.2 174.0,48.6 170.8,47.5 174.0,46.2 172.4,44.1 164.6,42.7 170.8,41.1 183.4,39.8 199.1,39.6 211.6,40.6 205.4,43.0 199.1,44.6 191.2,46.2 189.7,47.8 185.0,49.4 181.8,50.6 174.0,50.6ZM158.3,44.6 164.6,42.7 170.8,44.1 172.4,46.2 169.3,47.3 163.0,46.2ZM125.3,51.8 130.1,50.4 137.9,49.9 142.6,51.0 143.4,52.7 137.9,53.3 131.6,53.5 130.1,52.7ZM145.7,52.3 149.7,52.7 154.4,52.5 155.9,51.5 154.4,50.2 151.2,49.9 147.3,50.6ZM157.5,53.0 159.9,53.3 162.5,52.8 162.2,51.8 159.1,51.7ZM115.9,51.0 122.2,48.8 127.7,48.9 125.3,50.6 120.6,51.4ZM142.6,47.5 147.3,47.8 152.8,47.3 153.6,46.4 148.9,45.7 144.2,46.2ZM155.2,47.8 158.3,48.1 159.9,47.3 157.5,46.5 155.5,46.9ZM181.8,55.6 185.0,56.2 189.2,55.9 188.9,54.9 185.0,54.6ZM130.1,48.9 134.8,49.1 136.3,48.1 132.4,47.7ZM131.6,47.3 136.3,47.5 137.1,46.5 133.2,46.4ZM141.8,55.7 144.2,55.9 144.6,54.9 142.6,54.7ZM188.1,65.2 190.5,65.2 190.8,63.6 188.4,63.4ZM107.5,91.6 112.0,92.4 115.1,95.0 115.3,95.5 112.8,95.0 110.0,93.3ZM100.2,86.3 102.3,86.5 103.4,89.4 101.3,88.1ZM66.5,81.7 68.9,80.0 70.4,80.4 68.9,81.7ZM326.2,83.7 327.7,83.1 328.7,83.7 328.1,84.6 326.6,84.6ZM324.6,84.8 325.5,84.8 325.9,84.6 325.9,84.1 325.5,83.9 324.6,83.9 324.3,84.1 324.3,84.6ZM329.3,63.9 332.5,63.0 334.0,62.0 332.5,63.6ZM199.9,258.2 201.8,258.9 203.0,260.5 206.6,261.4 204.6,262.1 201.3,261.9 198.3,262.1 196.0,261.1 197.5,260.5 198.6,259.5 198.3,258.5ZM199.1,262.2 203.8,262.1 203.3,263.5 200.7,263.1ZM192.5,240.8 193.8,240.8 193.6,243.4 192.3,243.2ZM190.8,252.1 192.0,251.9 191.6,254.4 190.6,254.0Z"/><path id="fj" d="M115.1,94.1 112.8,92.9 108.9,91.3 107.6,89.2 105.7,87.3 104.5,85.7 102.6,84.4 100.2,83.3 97.9,81.7 95.5,80.0 93.2,78.8M79.8,75.5 75.9,76.8 73.6,77.8 71.2,77.6 68.1,78.4 66.5,80.0M240.4,77.0 242.2,74.4 244.6,71.2 246.2,68.8 250.1,67.6 255.6,66.3 258.7,63.9 265.0,63.4 269.7,61.5 273.6,59.9 270.5,58.3 274.4,57.5 275.2,55.1 279.1,53.5 277.5,51.8M238.3,76.5 233.6,75.2 230.5,72.8 228.1,70.4 225.8,67.2 225.0,64.7 228.1,62.3 224.2,61.5 223.4,59.4 222.6,57.5 220.3,54.3 217.1,51.8M317.5,78.4 316.8,76.2 316.8,73.6 319.9,72.0 323.8,70.9 325.4,69.6 328.5,67.2 331.7,64.7 334.0,63.0 337.9,61.2 342.7,60.4 346.6,59.1 349.4,58.9M194.7,241.1 194.4,244.4 192.8,246.8 190.5,249.2 190.5,252.4 192.0,255.6 193.6,258.9 197.1,260.3 197.8,258.5M202.2,282.2 204.6,280.3 206.9,279.0 211.6,277.1 217.9,275.5 219.5,275.9 216.3,277.4 214.0,279.0M570.5,247.9 570.2,246.8 572.5,244.4"/></defs><g transform="translate(0,0)" stroke="#000" stroke-width="0.8" stroke-linejoin="round" fill-rule="evenodd"><use href="#ant" fill="#fff" stroke="#000" stroke-width="0.8"/><g fill="#FFFFFF" stroke="#222" stroke-width="0.5"><use href="#c_France"/><use href="#c_Kosovo"/><use href="#c_Greece"/><use href="#c_Turkey"/><use href="#c_Kyrgyzstan"/><use href="#c_IvoryCoast"/><use href="#c_DemocraticRepublicoftheCongo"/><use href="#c_FrenchGuiana"/><use href="#c_Bolivia"/><use href="#c_UK"/><use href="#c_Brunei"/><use href="#c_NewCaledonia"/><use href="#c_Bahamas"/><use href="#c_Antilles"/><use href="#c_Cyprus"/><use href="#c_Faroe"/><use href="#c_Reunion"/><use href="#c_misc"/></g><g fill="#CC1400"><use href="#c_Portugal"/><use href="#c_Spain"/><use href="#c_Netherlands"/><use href="#c_Switzerland"/><use href="#c_Denmark"/><use href="#c_Austria"/><use href="#c_Slovenia"/><use href="#c_CzechRepublic"/><use href="#c_Slovakia"/><use href="#c_Croatia"/><use href="#c_BosniaandHerzegovina"/><use href="#c_Serbia"/><use href="#c_Romania"/><use href="#c_Lithuania"/><use href="#c_Latvia"/><use href="#c_Estonia"/><use href="#c_Poland"/><use href="#c_Belarus"/><use href="#c_Norway"/><use href="#c_Sweden"/><use href="#c_Finland"/><use href="#c_Kuwait"/><use href="#c_Qatar"/><use href="#c_Oman"/><use href="#c_Yemen"/><use href="#c_Georgia"/><use href="#c_Armenia"/><use href="#c_Iraq"/><use href="#c_SaudiArabia"/><use href="#c_Iran"/><use href="#c_Thailand"/><use href="#c_Belize"/><use href="#c_CostaRica"/><use href="#c_Panama"/><use href="#c_Mexico"/><use href="#c_Venezuela"/><use href="#c_Colombia"/><use href="#c_Ecuador"/><use href="#c_Chile"/><use href="#c_Paraguay"/><use href="#c_Uruguay"/><use href="#c_Argentina"/><use href="#c_Brazil"/><use href="#c_Iceland"/><use href="#c_Ireland"/><use href="#c_Taiwan"/><use href="#c_NewZealand"/><use href="#c_Cuba"/><use href="#c_Haiti"/><use href="#c_Jamaica"/></g><g fill="#118CA0"><use href="#c_Luxembourg"/><use href="#c_Belgium"/><use href="#c_Italy"/><use href="#c_Germany"/><use href="#c_Hungary"/><use href="#c_Bulgaria"/><use href="#c_Israel"/><use href="#c_Jordan"/><use href="#c_UnitedArabEmirates"/><use href="#c_Afghanistan"/><use href="#c_Sudan"/><use href="#c_Canada"/></g><g fill="#FF7A00"><use href="#c_Montenegro"/><use href="#c_Albania"/><use href="#c_Macedonia"/><use href="#c_Moldova"/><use href="#c_Russia"/><use href="#c_Ukraine"/><use href="#c_Lebanon"/><use href="#c_Azerbaijan"/><use href="#c_Turkmenistan"/><use href="#c_Tajikistan"/><use href="#c_Uzbekistan"/><use href="#c_Nepal"/><use href="#c_Bhutan"/><use href="#c_Bangladesh"/><use href="#c_Pakistan"/><use href="#c_India"/><use href="#c_Cambodia"/><use href="#c_Laos"/><use href="#c_Vietnam"/><use href="#c_Malaysia"/><use href="#c_Myanmar"/><use href="#c_SouthKorea"/><use href="#c_NorthKorea"/><use href="#c_Mongolia"/><use href="#c_Kazakhstan"/><use href="#c_China"/><use href="#c_Swaziland"/><use href="#c_Lesotho"/><use href="#c_Gambia"/><use href="#c_Morocco"/><use href="#c_WesternSahara"/><use href="#c_Tunisia"/><use href="#c_Mauritania"/><use href="#c_Senegal"/><use href="#c_GuineaBissau"/><use href="#c_SierraLeone"/><use href="#c_Liberia"/><use href="#c_Guinea"/><use href="#c_Togo"/><use href="#c_Ghana"/><use href="#c_Benin"/><use href="#c_BurkinaFaso"/><use href="#c_Mali"/><use href="#c_Algeria"/><use href="#c_Niger"/><use href="#c_EquatorialGuinea"/><use href="#c_Nigeria"/><use href="#c_Cameroon"/><use href="#c_Gabon"/><use href="#c_Chad"/><use href="#c_Eritrea"/><use href="#c_Djibouti"/><use href="#c_Somalia"/><use href="#c_Ethiopia"/><use href="#c_SouthSudan"/><use href="#c_CentralAfricanRepublic"/><use href="#c_RepublicofCongo"/><use href="#c_Kenya"/><use href="#c_Rwanda"/><use href="#c_Burundi"/><use href="#c_Uganda"/><use href="#c_Malawi"/><use href="#c_Tanzania"/><use href="#c_Mozambique"/><use href="#c_Zimbabwe"/><use href="#c_Botswana"/><use href="#c_Namibia"/><use href="#c_SouthAfrica"/><use href="#c_Zambia"/><use href="#c_Angola"/><use href="#c_Guatemala"/><use href="#c_ElSalvador"/><use href="#c_Honduras"/><use href="#c_Nicaragua"/><use href="#c_Suriname"/><use href="#c_Guyana"/><use href="#c_Peru"/><use href="#c_Greenland"/><use href="#c_Japan"/><use href="#c_SriLanka"/><use href="#c_Philippines"/><use href="#c_Indonesia"/><use href="#c_Timor"/><use href="#c_PapuaNewGuinea"/><use href="#c_SolomonIslands"/><use href="#c_Vanuatu"/><use href="#c_Fiji"/><use href="#c_Madagascar"/><use href="#c_DominicanRepublic"/><use href="#c_PuertoRico"/><use href="#c_TrinidadandTobago"/><use href="#c_CapeVerde"/><use href="#c_SaoTome"/><use href="#c_Comoros"/><use href="#c_Mauritius"/><use href="#c_Seychelles"/></g><g fill="#8C44A0"><use href="#c_Syria"/><use href="#c_Libya"/><use href="#c_Egypt"/><use href="#c_USA"/><use href="#c_Australia"/><use href="#c_Hawaii"/></g><g fill="#222222"><use href="#c_Falkland"/><use href="#c_SouthGeorgia"/><use href="#c_Kerguelen"/><use href="#c_Heard"/></g><use href="#heavy" fill="none" stroke-width="1.05"/><use href="#fj" fill="none" stroke-width="1.25"/></g><text y="20.4" font-size="20"><tspan x="5.4" font-weight="bold">A</tspan><tspan x="24.7">Age-standardized deaths rate</tspan></text><rect x="664.7" y="83.2" width="26.25" height="26.25" fill="#FF7A00" stroke="#222" stroke-width="0.5"/><text x="699.3" y="100.9" font-size="13.2">0~0.1</text><rect x="664.7" y="109.5" width="26.25" height="26.25" fill="#CC1400" stroke="#222" stroke-width="0.5"/><text x="699.3" y="127.2" font-size="13.2">0.1~0.2</text><rect x="664.7" y="135.7" width="26.25" height="26.25" fill="#118CA0" stroke="#222" stroke-width="0.5"/><text x="699.3" y="153.4" font-size="13.2">0.2~0.3</text><rect x="664.7" y="161.9" width="26.25" height="26.25" fill="#8C44A0" stroke="#222" stroke-width="0.5"/><text x="699.3" y="179.7" font-size="13.2">0.3~0.4</text><rect x="664.7" y="188.2" width="26.25" height="26.25" fill="#5F9EA0" stroke="#222" stroke-width="0.5"/><text x="699.3" y="205.9" font-size="13.2">0.4~0.5</text><rect x="664.7" y="214.4" width="26.25" height="26.25" fill="#FF6A50" stroke="#222" stroke-width="0.5"/><text x="699.3" y="232.2" font-size="13.2">0.5~0.6</text><g transform="translate(767.0,0)" stroke="#000" stroke-width="0.8" stroke-linejoin="round" fill-rule="evenodd"><use href="#ant" fill="#fff" stroke="#000" stroke-width="0.8"/><g fill="#FFFFFF" stroke="#222" stroke-width="0.5"><use href="#c_France"/><use href="#c_Kosovo"/><use href="#c_Greece"/><use href="#c_Turkey"/><use href="#c_Kyrgyzstan"/><use href="#c_IvoryCoast"/><use href="#c_DemocraticRepublicoftheCongo"/><use href="#c_FrenchGuiana"/><use href="#c_Bolivia"/><use href="#c_UK"/><use href="#c_Brunei"/><use href="#c_NewCaledonia"/><use href="#c_Bahamas"/><use href="#c_Antilles"/><use href="#c_Cyprus"/><use href="#c_Faroe"/><use href="#c_Reunion"/><use href="#c_misc"/></g><g fill="#118CA0"><use href="#c_Portugal"/><use href="#c_Spain"/><use href="#c_Netherlands"/><use href="#c_Switzerland"/><use href="#c_Denmark"/><use href="#c_Austria"/><use href="#c_Italy"/><use href="#c_Slovenia"/><use href="#c_Croatia"/><use href="#c_Romania"/><use href="#c_Russia"/><use href="#c_Latvia"/><use href="#c_Estonia"/><use href="#c_Poland"/><use href="#c_Norway"/><use href="#c_Sweden"/><use href="#c_Finland"/><use href="#c_Kuwait"/><use href="#c_Qatar"/><use href="#c_UnitedArabEmirates"/><use href="#c_Oman"/><use href="#c_Yemen"/><use href="#c_SaudiArabia"/><use href="#c_Malaysia"/><use href="#c_Lesotho"/><use href="#c_Tunisia"/><use href="#c_SouthAfrica"/><use href="#c_Belize"/><use href="#c_Honduras"/><use href="#c_Panama"/><use href="#c_Mexico"/><use href="#c_Venezuela"/><use href="#c_Colombia"/><use href="#c_Peru"/><use href="#c_Chile"/><use href="#c_Paraguay"/><use href="#c_Brazil"/><use href="#c_Ireland"/><use href="#c_Taiwan"/><use href="#c_Cuba"/><use href="#c_Jamaica"/></g><g fill="#8C44A0"><use href="#c_Luxembourg"/><use href="#c_Belgium"/><use href="#c_CzechRepublic"/><use href="#c_Germany"/><use href="#c_Slovakia"/><use href="#c_Hungary"/><use href="#c_BosniaandHerzegovina"/><use href="#c_Montenegro"/><use href="#c_Macedonia"/><use href="#c_Serbia"/><use href="#c_Bulgaria"/><use href="#c_Lithuania"/><use href="#c_Belarus"/><use href="#c_Georgia"/><use href="#c_Iraq"/><use href="#c_Iran"/><use href="#c_Thailand"/><use href="#c_CostaRica"/><use href="#c_Canada"/><use href="#c_Ecuador"/><use href="#c_Uruguay"/><use href="#c_Argentina"/><use href="#c_Iceland"/><use href="#c_NewZealand"/></g><g fill="#CC1400"><use href="#c_Albania"/><use href="#c_Moldova"/><use href="#c_Ukraine"/><use href="#c_Armenia"/><use href="#c_Azerbaijan"/><use href="#c_Turkmenistan"/><use href="#c_Tajikistan"/><use href="#c_Uzbekistan"/><use href="#c_Pakistan"/><use href="#c_Cambodia"/><use href="#c_Laos"/><use href="#c_Myanmar"/><use href="#c_SouthKorea"/><use href="#c_NorthKorea"/><use href="#c_Mongolia"/><use href="#c_Kazakhstan"/><use href="#c_Algeria"/><use href="#c_Gabon"/><use href="#c_Zimbabwe"/><use href="#c_Botswana"/><use href="#c_Namibia"/><use href="#c_Guatemala"/><use href="#c_ElSalvador"/><use href="#c_Nicaragua"/><use href="#c_Suriname"/><use href="#c_Greenland"/><use href="#c_Japan"/><use href="#c_Philippines"/><use href="#c_Indonesia"/><use href="#c_Timor"/><use href="#c_PapuaNewGuinea"/><use href="#c_Haiti"/><use href="#c_DominicanRepublic"/></g><g fill="#FF9EB4"><use href="#c_Lebanon"/></g><g fill="#FF7A00"><use href="#c_Israel"/><use href="#c_Nepal"/><use href="#c_Bhutan"/><use href="#c_Bangladesh"/><use href="#c_India"/><use href="#c_Vietnam"/><use href="#c_China"/><use href="#c_Swaziland"/><use href="#c_Gambia"/><use href="#c_Morocco"/><use href="#c_WesternSahara"/><use href="#c_Mauritania"/><use href="#c_Senegal"/><use href="#c_GuineaBissau"/><use href="#c_SierraLeone"/><use href="#c_Liberia"/><use href="#c_Guinea"/><use href="#c_Togo"/><use href="#c_Ghana"/><use href="#c_Benin"/><use href="#c_BurkinaFaso"/><use href="#c_Mali"/><use href="#c_Niger"/><use href="#c_EquatorialGuinea"/><use href="#c_Nigeria"/><use href="#c_Cameroon"/><use href="#c_Chad"/><use href="#c_Eritrea"/><use href="#c_Djibouti"/><use href="#c_Somalia"/><use href="#c_Ethiopia"/><use href="#c_SouthSudan"/><use href="#c_CentralAfricanRepublic"/><use href="#c_RepublicofCongo"/><use href="#c_Kenya"/><use href="#c_Rwanda"/><use href="#c_Burundi"/><use href="#c_Uganda"/><use href="#c_Malawi"/><use href="#c_Tanzania"/><use href="#c_Mozambique"/><use href="#c_Zambia"/><use href="#c_Angola"/><use href="#c_Guyana"/><use href="#c_SriLanka"/><use href="#c_SolomonIslands"/><use href="#c_Vanuatu"/><use href="#c_Fiji"/><use href="#c_Madagascar"/><use href="#c_PuertoRico"/><use href="#c_TrinidadandTobago"/><use href="#c_CapeVerde"/><use href="#c_SaoTome"/><use href="#c_Comoros"/><use href="#c_Mauritius"/><use href="#c_Seychelles"/></g><g fill="#84D8E2"><use href="#c_Jordan"/><use href="#c_Egypt"/></g><g fill="#FF6A50"><use href="#c_Syria"/><use href="#c_Afghanistan"/><use href="#c_Libya"/></g><g fill="#5F9EA0"><use href="#c_Sudan"/><use href="#c_USA"/><use href="#c_Australia"/><use href="#c_Hawaii"/></g><g fill="#222222"><use href="#c_Falkland"/><use href="#c_SouthGeorgia"/><use href="#c_Kerguelen"/><use href="#c_Heard"/></g><use href="#heavy" fill="none" stroke-width="1.05"/><use href="#fj" fill="none" stroke-width="1.25"/></g><text y="20.4" font-size="20"><tspan x="772.4" font-weight="bold">B</tspan><tspan x="791.7">Age-standardized DALYs rate</tspan></text><rect x="1435.4" y="57.3" width="26.25" height="26.25" fill="#FF7A00" stroke="#222" stroke-width="0.5"/><text x="1470.3" y="75.0" font-size="13.2">0~2</text><rect x="1435.4" y="83.5" width="26.25" height="26.25" fill="#CC1400" stroke="#222" stroke-width="0.5"/><text x="1470.3" y="101.3" font-size="13.2">2~4</text><rect x="1435.4" y="109.8" width="26.25" height="26.25" fill="#118CA0" stroke="#222" stroke-width="0.5"/><text x="1470.3" y="127.5" font-size="13.2">4~6</text><rect x="1435.4" y="136.1" width="26.25" height="26.25" fill="#8C44A0" stroke="#222" stroke-width="0.5"/><text x="1470.3" y="153.8" font-size="13.2">6~8</text><rect x="1435.4" y="162.3" width="26.25" height="26.25" fill="#5F9EA0" stroke="#222" stroke-width="0.5"/><text x="1470.3" y="180.0" font-size="13.2">8~10</text><rect x="1435.4" y="188.6" width="26.25" height="26.25" fill="#FF6A50" stroke="#222" stroke-width="0.5"/><text x="1470.3" y="206.3" font-size="13.2">10~12</text><rect x="1435.4" y="214.8" width="26.25" height="26.25" fill="#84D8E2" stroke="#222" stroke-width="0.5"/><text x="1470.3" y="232.5" font-size="13.2">12~14</text><rect x="1435.4" y="241.1" width="26.25" height="26.25" fill="#FF9EB4" stroke="#222" stroke-width="0.5"/><text x="1470.3" y="258.8" font-size="13.2">14~16</text><g transform="translate(0,328.2)" stroke="#000" stroke-width="0.8" stroke-linejoin="round" fill-rule="evenodd"><use href="#ant" fill="#fff" stroke="#000" stroke-width="0.8"/><g fill="#FFFFFF" stroke="#222" stroke-width="0.5"><use href="#c_France"/><use href="#c_Kosovo"/><use href="#c_Greece"/><use href="#c_Turkey"/><use href="#c_Kyrgyzstan"/><use href="#c_IvoryCoast"/><use href="#c_DemocraticRepublicoftheCongo"/><use href="#c_FrenchGuiana"/><use href="#c_Bolivia"/><use href="#c_UK"/><use href="#c_Brunei"/><use href="#c_NewCaledonia"/><use href="#c_Bahamas"/><use href="#c_Antilles"/><use href="#c_Cyprus"/><use href="#c_Faroe"/><use href="#c_Reunion"/><use href="#c_misc"/></g><g fill="#FF7A00"><use href="#c_Portugal"/><use href="#c_Luxembourg"/><use href="#c_Belgium"/><use href="#c_Netherlands"/><use href="#c_Switzerland"/><use href="#c_Denmark"/><use href="#c_Austria"/><use href="#c_Slovenia"/><use href="#c_CzechRepublic"/><use href="#c_Slovakia"/><use href="#c_Hungary"/><use href="#c_Croatia"/><use href="#c_BosniaandHerzegovina"/><use href="#c_Montenegro"/><use href="#c_Albania"/><use href="#c_Macedonia"/><use href="#c_Serbia"/><use href="#c_Bulgaria"/><use href="#c_Moldova"/><use href="#c_Romania"/><use href="#c_Lithuania"/><use href="#c_Latvia"/><use href="#c_Estonia"/><use href="#c_Belarus"/><use href="#c_Ukraine"/><use href="#c_Norway"/><use href="#c_Sweden"/><use href="#c_Finland"/><use href="#c_Lebanon"/><use href="#c_Israel"/><use href="#c_Jordan"/><use href="#c_Kuwait"/><use href="#c_Qatar"/><use href="#c_UnitedArabEmirates"/><use href="#c_Oman"/><use href="#c_Yemen"/><use href="#c_Syria"/><use href="#c_Georgia"/><use href="#c_Armenia"/><use href="#c_Azerbaijan"/><use href="#c_Iraq"/><use href="#c_SaudiArabia"/><use href="#c_Turkmenistan"/><use href="#c_Tajikistan"/><use href="#c_Uzbekistan"/><use href="#c_Afghanistan"/><use href="#c_Nepal"/><use href="#c_Bhutan"/><use href="#c_Bangladesh"/><use href="#c_Cambodia"/><use href="#c_Laos"/><use href="#c_Vietnam"/><use href="#c_Malaysia"/><use href="#c_Myanmar"/><use href="#c_SouthKorea"/><use href="#c_NorthKorea"/><use href="#c_Mongolia"/><use href="#c_Kazakhstan"/><use href="#c_Swaziland"/><use href="#c_Lesotho"/><use href="#c_Gambia"/><use href="#c_Morocco"/><use href="#c_WesternSahara"/><use href="#c_Tunisia"/><use href="#c_Libya"/><use href="#c_Mauritania"/><use href="#c_Senegal"/><use href="#c_GuineaBissau"/><use href="#c_SierraLeone"/><use href="#c_Liberia"/><use href="#c_Guinea"/><use href="#c_Togo"/><use href="#c_Ghana"/><use href="#c_Benin"/><use href="#c_BurkinaFaso"/><use href="#c_Mali"/><use href="#c_Algeria"/><use href="#c_Niger"/><use href="#c_EquatorialGuinea"/><use href="#c_Nigeria"/><use href="#c_Cameroon"/><use href="#c_Gabon"/><use href="#c_Chad"/><use href="#c_Eritrea"/><use href="#c_Djibouti"/><use href="#c_Somalia"/><use href="#c_Sudan"/><use href="#c_Ethiopia"/><use href="#c_SouthSudan"/><use href="#c_CentralAfricanRepublic"/><use href="#c_RepublicofCongo"/><use href="#c_Kenya"/><use href="#c_Rwanda"/><use href="#c_Burundi"/><use href="#c_Uganda"/><use href="#c_Malawi"/><use href="#c_Tanzania"/><use href="#c_Mozambique"/><use href="#c_Zimbabwe"/><use href="#c_Botswana"/><use href="#c_Namibia"/><use href="#c_SouthAfrica"/><use href="#c_Zambia"/><use href="#c_Angola"/><use href="#c_Belize"/><use href="#c_Guatemala"/><use href="#c_ElSalvador"/><use href="#c_Honduras"/><use href="#c_Nicaragua"/><use href="#c_CostaRica"/><use href="#c_Panama"/><use href="#c_Suriname"/><use href="#c_Guyana"/><use href="#c_Venezuela"/><use href="#c_Colombia"/><use href="#c_Ecuador"/><use href="#c_Peru"/><use href="#c_Chile"/><use href="#c_Paraguay"/><use href="#c_Uruguay"/><use href="#c_Greenland"/><use href="#c_Iceland"/><use href="#c_Ireland"/><use href="#c_Taiwan"/><use href="#c_SriLanka"/><use href="#c_Timor"/><use href="#c_PapuaNewGuinea"/><use href="#c_SolomonIslands"/><use href="#c_Vanuatu"/><use href="#c_Fiji"/><use href="#c_NewZealand"/><use href="#c_Madagascar"/><use href="#c_Cuba"/><use href="#c_Haiti"/><use href="#c_DominicanRepublic"/><use href="#c_Jamaica"/><use href="#c_PuertoRico"/><use href="#c_TrinidadandTobago"/><use href="#c_CapeVerde"/><use href="#c_SaoTome"/><use href="#c_Comoros"/><use href="#c_Mauritius"/><use href="#c_Seychelles"/></g><g fill="#118CA0"><use href="#c_Spain"/><use href="#c_Thailand"/><use href="#c_Egypt"/><use href="#c_Mexico"/><use href="#c_Canada"/><use href="#c_Indonesia"/></g><g fill="#8C44A0"><use href="#c_Italy"/><use href="#c_Germany"/><use href="#c_Russia"/><use href="#c_India"/><use href="#c_Brazil"/><use href="#c_Japan"/></g><g fill="#CC1400"><use href="#c_Poland"/><use href="#c_Iran"/><use href="#c_Pakistan"/><use href="#c_Argentina"/><use href="#c_Philippines"/><use href="#c_Australia"/></g><g fill="#5F9EA0"><use href="#c_China"/></g><g fill="#FF6A50"><use href="#c_USA"/><use href="#c_Hawaii"/></g><g fill="#222222"><use href="#c_Falkland"/><use href="#c_SouthGeorgia"/><use href="#c_Kerguelen"/><use href="#c_Heard"/></g><use href="#heavy" fill="none" stroke-width="1.05"/><use href="#fj" fill="none" stroke-width="1.25"/></g><text y="348.6" font-size="20"><tspan x="5.4" font-weight="bold">C</tspan><tspan x="24.7">Number of deaths cases</tspan></text><rect x="653.3" y="411.5" width="26.25" height="26.25" fill="#FF7A00" stroke="#222" stroke-width="0.5"/><text x="687.9" y="429.2" font-size="13.2">0~100</text><rect x="653.3" y="437.8" width="26.25" height="26.25" fill="#CC1400" stroke="#222" stroke-width="0.5"/><text x="687.9" y="455.5" font-size="13.2">100~200</text><rect x="653.3" y="464.0" width="26.25" height="26.25" fill="#118CA0" stroke="#222" stroke-width="0.5"/><text x="687.9" y="481.7" font-size="13.2">200~300</text><rect x="653.3" y="490.2" width="26.25" height="26.25" fill="#8C44A0" stroke="#222" stroke-width="0.5"/><text x="687.9" y="508.0" font-size="13.2">300~600</text><rect x="653.3" y="516.5" width="26.25" height="26.25" fill="#5F9EA0" stroke="#222" stroke-width="0.5"/><text x="687.9" y="534.2" font-size="13.2">900~1200</text><rect x="653.3" y="542.8" width="26.25" height="26.25" fill="#FF6A50" stroke="#222" stroke-width="0.5"/><text x="687.9" y="560.5" font-size="13.2">2100~2400</text><g transform="translate(767.0,328.2)" stroke="#000" stroke-width="0.8" stroke-linejoin="round" fill-rule="evenodd"><use href="#ant" fill="#fff" stroke="#000" stroke-width="0.8"/><g fill="#FFFFFF" stroke="#222" stroke-width="0.5"><use href="#c_France"/><use href="#c_Kosovo"/><use href="#c_Greece"/><use href="#c_Turkey"/><use href="#c_Kyrgyzstan"/><use href="#c_IvoryCoast"/><use href="#c_DemocraticRepublicoftheCongo"/><use href="#c_FrenchGuiana"/><use href="#c_Bolivia"/><use href="#c_UK"/><use href="#c_Brunei"/><use href="#c_NewCaledonia"/><use href="#c_Bahamas"/><use href="#c_Antilles"/><use href="#c_Cyprus"/><use href="#c_Faroe"/><use href="#c_Reunion"/><use href="#c_misc"/></g><g fill="#FF7A00"><use href="#c_Portugal"/><use href="#c_Luxembourg"/><use href="#c_Belgium"/><use href="#c_Netherlands"/><use href="#c_Switzerland"/><use href="#c_Denmark"/><use href="#c_Austria"/><use href="#c_Slovenia"/><use href="#c_CzechRepublic"/><use href="#c_Slovakia"/><use href="#c_Hungary"/><use href="#c_Croatia"/><use href="#c_BosniaandHerzegovina"/><use href="#c_Montenegro"/><use href="#c_Albania"/><use href="#c_Macedonia"/><use href="#c_Serbia"/><use href="#c_Bulgaria"/><use href="#c_Moldova"/><use href="#c_Romania"/><use href="#c_Lithuania"/><use href="#c_Latvia"/><use href="#c_Estonia"/><use href="#c_Belarus"/><use href="#c_Norway"/><use href="#c_Sweden"/><use href="#c_Finland"/><use href="#c_Lebanon"/><use href="#c_Israel"/><use href="#c_Jordan"/><use href="#c_Kuwait"/><use href="#c_Qatar"/><use href="#c_UnitedArabEmirates"/><use href="#c_Oman"/><use href="#c_Yemen"/><use href="#c_Syria"/><use href="#c_Georgia"/><use href="#c_Armenia"/><use href="#c_Azerbaijan"/><use href="#c_SaudiArabia"/><use href="#c_Turkmenistan"/><use href="#c_Tajikistan"/><use href="#c_Uzbekistan"/><use href="#c_Afghanistan"/><use href="#c_Nepal"/><use href="#c_Bhutan"/><use href="#c_Bangladesh"/><use href="#c_Cambodia"/><use href="#c_Laos"/><use href="#c_Vietnam"/><use href="#c_Malaysia"/><use href="#c_Myanmar"/><use href="#c_NorthKorea"/><use href="#c_Mongolia"/><use href="#c_Kazakhstan"/><use href="#c_Swaziland"/><use href="#c_Lesotho"/><use href="#c_Gambia"/><use href="#c_Morocco"/><use href="#c_WesternSahara"/><use href="#c_Tunisia"/><use href="#c_Libya"/><use href="#c_Mauritania"/><use href="#c_Senegal"/><use href="#c_GuineaBissau"/><use href="#c_SierraLeone"/><use href="#c_Liberia"/><use href="#c_Guinea"/><use href="#c_Togo"/><use href="#c_Ghana"/><use href="#c_Benin"/><use href="#c_BurkinaFaso"/><use href="#c_Mali"/><use href="#c_Algeria"/><use href="#c_Niger"/><use href="#c_EquatorialGuinea"/><use href="#c_Nigeria"/><use href="#c_Cameroon"/><use href="#c_Gabon"/><use href="#c_Chad"/><use href="#c_Eritrea"/><use href="#c_Djibouti"/><use href="#c_Somalia"/><use href="#c_Ethiopia"/><use href="#c_SouthSudan"/><use href="#c_CentralAfricanRepublic"/><use href="#c_RepublicofCongo"/><use href="#c_Kenya"/><use href="#c_Rwanda"/><use href="#c_Burundi"/><use href="#c_Uganda"/><use href="#c_Malawi"/><use href="#c_Tanzania"/><use href="#c_Mozambique"/><use href="#c_Zimbabwe"/><use href="#c_Botswana"/><use href="#c_Namibia"/><use href="#c_Zambia"/><use href="#c_Angola"/><use href="#c_Belize"/><use href="#c_Guatemala"/><use href="#c_ElSalvador"/><use href="#c_Honduras"/><use href="#c_Nicaragua"/><use href="#c_CostaRica"/><use href="#c_Panama"/><use href="#c_Suriname"/><use href="#c_Guyana"/><use href="#c_Venezuela"/><use href="#c_Ecuador"/><use href="#c_Peru"/><use href="#c_Chile"/><use href="#c_Paraguay"/><use href="#c_Uruguay"/><use href="#c_Greenland"/><use href="#c_Iceland"/><use href="#c_Ireland"/><use href="#c_Taiwan"/><use href="#c_SriLanka"/><use href="#c_Timor"/><use href="#c_PapuaNewGuinea"/><use href="#c_SolomonIslands"/><use href="#c_Vanuatu"/><use href="#c_Fiji"/><use href="#c_NewZealand"/><use href="#c_Madagascar"/><use href="#c_Cuba"/><use href="#c_Haiti"/><use href="#c_DominicanRepublic"/><use href="#c_Jamaica"/><use href="#c_PuertoRico"/><use href="#c_TrinidadandTobago"/><use href="#c_CapeVerde"/><use href="#c_SaoTome"/><use href="#c_Comoros"/><use href="#c_Mauritius"/><use href="#c_Seychelles"/></g><g fill="#118CA0"><use href="#c_Spain"/><use href="#c_Pakistan"/><use href="#c_Canada"/><use href="#c_Philippines"/></g><g fill="#8C44A0"><use href="#c_Italy"/><use href="#c_Iran"/><use href="#c_Thailand"/><use href="#c_Mexico"/><use href="#c_Japan"/></g><g fill="#FF6A50"><use href="#c_Germany"/><use href="#c_India"/><use href="#c_Brazil"/><use href="#c_Indonesia"/></g><g fill="#5F9EA0"><use href="#c_Russia"/><use href="#c_Egypt"/></g><g fill="#CC1400"><use href="#c_Poland"/><use href="#c_Ukraine"/><use href="#c_Iraq"/><use href="#c_SouthKorea"/><use href="#c_Sudan"/><use href="#c_SouthAfrica"/><use href="#c_Colombia"/><use href="#c_Argentina"/><use href="#c_Australia"/></g><g fill="#84D8E2"><use href="#c_China"/></g><g fill="#FF9EB4"><use href="#c_USA"/><use href="#c_Hawaii"/></g><g fill="#222222"><use href="#c_Falkland"/><use href="#c_SouthGeorgia"/><use href="#c_Kerguelen"/><use href="#c_Heard"/></g><use href="#heavy" fill="none" stroke-width="1.05"/><use href="#fj" fill="none" stroke-width="1.25"/></g><text y="348.6" font-size="20"><tspan x="772.4" font-weight="bold">D</tspan><tspan x="791.7">Number of DALYs cases</tspan></text><rect x="1412.9" y="384.9" width="26.25" height="26.25" fill="#FF7A00" stroke="#222" stroke-width="0.5"/><text x="1449.0" y="402.6" font-size="13.2">0~2000</text><rect x="1412.9" y="411.1" width="26.25" height="26.25" fill="#CC1400" stroke="#222" stroke-width="0.5"/><text x="1449.0" y="428.9" font-size="13.2">2000~4000</text><rect x="1412.9" y="437.4" width="26.25" height="26.25" fill="#118CA0" stroke="#222" stroke-width="0.5"/><text x="1449.0" y="455.1" font-size="13.2">4000~6000</text><rect x="1412.9" y="463.6" width="26.25" height="26.25" fill="#8C44A0" stroke="#222" stroke-width="0.5"/><text x="1449.0" y="481.4" font-size="13.2">6000~8000</text><rect x="1412.9" y="489.9" width="26.25" height="26.25" fill="#5F9EA0" stroke="#222" stroke-width="0.5"/><text x="1449.0" y="507.6" font-size="13.2">8000~10000</text><rect x="1412.9" y="516.1" width="26.25" height="26.25" fill="#FF6A50" stroke="#222" stroke-width="0.5"/><text x="1449.0" y="533.9" font-size="13.2">10000~20000</text><rect x="1412.9" y="542.4" width="26.25" height="26.25" fill="#84D8E2" stroke="#222" stroke-width="0.5"/><text x="1449.0" y="560.1" font-size="13.2">30000~40000</text><rect x="1412.9" y="568.6" width="26.25" height="26.25" fill="#FF9EB4" stroke="#222" stroke-width="0.5"/><text x="1449.0" y="586.4" font-size="13.2">40000~50000</text></svg></body></html>
